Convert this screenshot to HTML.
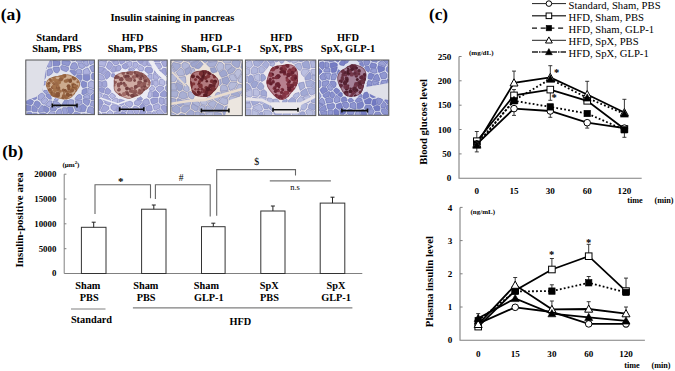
<!DOCTYPE html>
<html><head><meta charset="utf-8"><style>
html,body{margin:0;padding:0;background:#fff;width:675px;height:371px;overflow:hidden}
svg{display:block;font-family:"Liberation Serif",serif}
</style></head><body>
<svg width="675" height="371" viewBox="0 0 675 371" font-family="Liberation Serif, serif" fill="#000"><defs><filter id="bl" x="-5%" y="-5%" width="110%" height="110%"><feGaussianBlur stdDeviation="0.65"/></filter><clipPath id="c0"><rect x="25.8" y="60" width="68.6" height="54.6"/></clipPath><clipPath id="c1"><rect x="98.3" y="60" width="68.9" height="54.6"/></clipPath><clipPath id="c2"><rect x="170.8" y="60" width="71.5" height="55.6"/></clipPath><clipPath id="c3"><rect x="245.4" y="60" width="70.4" height="55.6"/></clipPath><clipPath id="c4"><rect x="318.5" y="60" width="70.3" height="55.3"/></clipPath></defs><text x="0.8" y="19.8" font-size="17.5" font-weight="bold" text-anchor="start" >(a)</text>
<text x="110.5" y="21" font-size="10.5" font-weight="bold" text-anchor="start" >Insulin staining in pancreas</text>
<text x="57" y="40.6" font-size="10.4" font-weight="bold" text-anchor="middle" >Standard</text>
<text x="57" y="51.8" font-size="10.4" font-weight="bold" text-anchor="middle" >Sham, PBS</text>
<text x="132.6" y="40.6" font-size="10.4" font-weight="bold" text-anchor="middle" >HFD</text>
<text x="132.6" y="51.8" font-size="10.4" font-weight="bold" text-anchor="middle" >Sham, PBS</text>
<text x="211.3" y="40.6" font-size="10.4" font-weight="bold" text-anchor="middle" >HFD</text>
<text x="211.3" y="51.8" font-size="10.4" font-weight="bold" text-anchor="middle" >Sham, GLP-1</text>
<text x="281.3" y="40.6" font-size="10.4" font-weight="bold" text-anchor="middle" >HFD</text>
<text x="281.3" y="51.8" font-size="10.4" font-weight="bold" text-anchor="middle" >SpX, PBS</text>
<text x="348" y="40.6" font-size="10.4" font-weight="bold" text-anchor="middle" >HFD</text>
<text x="348" y="51.8" font-size="10.4" font-weight="bold" text-anchor="middle" >SpX, GLP-1</text>
<g clip-path="url(#c0)"><g filter="url(#bl)">
<rect x="25.8" y="60" width="68.6" height="54.6" fill="#e2e4ee"/>
<path d="M18.1 52.8 22.3 57.4 22.9 57.4 25.8 51.1 21.9 49.7 19.1 50.8Z" fill="#aaafdc" stroke="#6c72b2" stroke-width="0.6"/>
<path d="M33.7 49.5 33.1 54.6 30.9 55.5 28.3 51.0 31.1 48.5 33.5 49.3Z" fill="#949ad1" stroke="#6c72b2" stroke-width="0.6"/>
<path d="M38.9 52.4 37.2 56.2 33.6 54.7 34.2 49.6Z" fill="#989dd3" stroke="#6c72b2" stroke-width="0.6"/>
<path d="M50.0 50.4 48.4 54.3 52.1 56.9 54.0 54.2 51.3 49.2Z" fill="#9ea3d6" stroke="#6c72b2" stroke-width="0.6"/>
<path d="M87.8 56.4 90.8 54.1 89.3 49.9 89.1 49.7 83.5 50.4 83.0 54.6Z" fill="#a3a8d9" stroke="#6c72b2" stroke-width="0.6"/>
<path d="M29.7 58.1 26.7 59.5 24.0 57.9 26.9 51.6 27.4 51.5 30.0 56.0Z" fill="#a6aada" stroke="#6c72b2" stroke-width="0.6"/>
<path d="M36.8 59.9 35.2 60.5 30.9 58.2 31.2 56.2 33.4 55.3 36.9 56.8Z" fill="#9298d0" stroke="#6c72b2" stroke-width="0.6"/>
<path d="M41.2 52.8 44.7 55.4 43.3 60.8 40.5 61.1 38.5 60.0 38.6 56.9 40.3 53.1Z" fill="#8f96cf" stroke="#6c72b2" stroke-width="0.6"/>
<path d="M44.4 61.1 44.6 61.2 51.2 59.7 51.5 59.1 51.3 58.0 47.6 55.4 45.8 55.7Z" fill="#9399d1" stroke="#6c72b2" stroke-width="0.6"/>
<path d="M55.2 55.1 60.6 53.7 61.0 54.2 60.7 59.4 60.2 60.3 53.4 58.9 53.3 57.7Z" fill="#8189c8" stroke="#6c72b2" stroke-width="0.6"/>
<path d="M69.7 60.1 68.6 54.8 62.9 54.4 62.5 59.5Z" fill="#9299d1" stroke="#6c72b2" stroke-width="0.6"/>
<path d="M74.1 52.9 70.0 54.5 70.0 54.5 71.2 59.8 72.1 60.9 74.9 60.5 76.9 56.3Z" fill="#a0a5d7" stroke="#6c72b2" stroke-width="0.6"/>
<path d="M81.4 56.3 78.3 56.9 76.3 61.2 77.8 62.3 81.7 61.7 82.0 61.1Z" fill="#adb1de" stroke="#6c72b2" stroke-width="0.6"/>
<path d="M87.1 59.2 82.6 61.0 82.0 56.2 82.5 55.9 87.3 57.7Z" fill="#a4a9d9" stroke="#6c72b2" stroke-width="0.6"/>
<path d="M89.9 64.7 88.7 59.5 88.9 57.9 91.9 55.7 95.2 56.7 96.4 61.1 92.5 63.8Z" fill="#9ea4d7" stroke="#6c72b2" stroke-width="0.6"/>
<path d="M22.6 67.8 20.1 66.4 20.2 61.7 22.6 59.4 23.1 59.4 25.8 61.0 26.6 66.0Z" fill="#9ca2d5" stroke="#6c72b2" stroke-width="0.6"/>
<path d="M34.6 61.6 30.4 59.3 27.3 60.8 28.1 65.8 30.7 66.7 31.7 66.1Z" fill="#8189c8" stroke="#6c72b2" stroke-width="0.6"/>
<path d="M39.4 62.9 39.1 68.6 32.9 66.9 35.9 62.4 37.5 61.9Z" fill="#8f96cf" stroke="#6c72b2" stroke-width="0.6"/>
<path d="M40.7 63.0 40.4 68.7 40.7 69.3 45.9 69.0 46.8 68.0 43.6 62.8 43.5 62.7Z" fill="#9096d0" stroke="#6c72b2" stroke-width="0.6"/>
<path d="M47.9 67.3 51.2 66.8 51.7 66.2 51.4 60.7 44.8 62.1Z" fill="#9ea3d6" stroke="#6c72b2" stroke-width="0.6"/>
<path d="M53.2 66.1 59.0 65.6 60.0 64.2 60.0 61.4 53.2 60.0 52.9 60.6Z" fill="#858cca" stroke="#6c72b2" stroke-width="0.6"/>
<path d="M70.6 62.1 68.6 66.1 62.0 64.2 62.0 61.3 62.5 60.5 69.7 61.1Z" fill="#9198d0" stroke="#6c72b2" stroke-width="0.6"/>
<path d="M75.5 69.6 70.7 68.7 70.4 66.9 72.3 63.0 75.2 62.6 76.7 63.8 77.9 67.9Z" fill="#979dd3" stroke="#6c72b2" stroke-width="0.6"/>
<path d="M79.3 67.5 78.0 63.4 81.9 62.7 85.3 66.8 82.2 68.7Z" fill="#a4a9d9" stroke="#6c72b2" stroke-width="0.6"/>
<path d="M87.8 66.0 88.5 65.0 87.3 59.8 82.8 61.6 82.6 62.1 86.0 66.2Z" fill="#a6abda" stroke="#6c72b2" stroke-width="0.6"/>
<path d="M97.2 69.4 93.4 65.1 97.3 62.4 97.5 62.6 99.0 66.4Z" fill="#9ca2d5" stroke="#6c72b2" stroke-width="0.6"/>
<path d="M23.4 71.4 27.0 75.4 30.9 73.0 30.0 68.7 27.3 67.7 23.4 69.5Z" fill="#878fcb" stroke="#6c72b2" stroke-width="0.6"/>
<path d="M39.2 70.0 38.5 72.0 34.2 73.6 32.6 72.7 31.7 68.3 32.7 67.7 38.9 69.4Z" fill="#a3a8d9" stroke="#6c72b2" stroke-width="0.6"/>
<path d="M46.0 70.2 46.0 75.5 41.0 74.0 40.0 72.6 40.7 70.6Z" fill="#aaaedc" stroke="#6c72b2" stroke-width="0.6"/>
<path d="M51.6 73.9 52.9 72.2 51.5 68.7 48.2 69.2 47.4 70.2 47.4 75.5 47.4 75.6 48.8 75.7Z" fill="#999fd4" stroke="#6c72b2" stroke-width="0.6"/>
<path d="M57.8 72.8 58.3 72.3 58.7 71.8 59.7 70.0 59.1 67.1 53.4 67.6 52.9 68.2 54.2 71.7 56.2 72.8Z" fill="#9097d0" stroke="#6c72b2" stroke-width="0.6"/>
<path d="M64.2 71.0 66.0 71.5 67.1 71.3 68.0 70.4 68.6 69.1 68.3 67.3 61.7 65.4 60.6 66.8 61.2 69.6Z" fill="#979dd3" stroke="#6c72b2" stroke-width="0.6"/>
<path d="M75.3 70.7 70.5 69.9 69.9 71.2 73.0 74.5 73.3 74.7 75.1 75.5 75.9 74.5Z" fill="#878ecb" stroke="#6c72b2" stroke-width="0.6"/>
<path d="M76.2 70.6 76.8 74.3 81.4 73.8 81.6 70.1 78.7 68.9Z" fill="#a1a6d8" stroke="#6c72b2" stroke-width="0.6"/>
<path d="M82.9 74.0 83.2 74.4 89.7 74.4 90.4 72.8 88.0 68.1 86.3 68.4 83.2 70.3Z" fill="#adb1de" stroke="#6c72b2" stroke-width="0.6"/>
<path d="M92.0 71.9 89.7 67.3 90.4 66.3 93.0 65.4 96.9 69.7 96.5 71.5Z" fill="#989ed3" stroke="#6c72b2" stroke-width="0.6"/>
<path d="M100.6 74.0 103.3 72.2 104.2 68.6 99.9 66.9 98.1 69.9 97.8 71.7Z" fill="#a1a6d8" stroke="#6c72b2" stroke-width="0.6"/>
<path d="M18.7 78.0 18.9 76.9 22.5 72.2 26.1 76.2 25.9 76.9 21.9 79.5Z" fill="#a6abda" stroke="#6c72b2" stroke-width="0.6"/>
<path d="M33.2 75.2 31.6 74.3 27.8 76.7 27.6 77.4 29.3 79.8 34.0 78.9Z" fill="#8990cc" stroke="#6c72b2" stroke-width="0.6"/>
<path d="M39.9 74.7 39.4 78.6 35.7 78.8 35.5 78.5 34.6 74.9 39.0 73.3Z" fill="#abb0dd" stroke="#6c72b2" stroke-width="0.6"/>
<path d="M44.9 78.8 45.9 76.4 45.8 76.3 40.8 74.8 40.2 78.8 42.7 80.7 43.9 79.8Z" fill="#9da2d6" stroke="#6c72b2" stroke-width="0.6"/>
<path d="M76.9 77.6 76.1 76.9 76.1 76.3 76.9 75.3 81.5 74.8 81.8 75.3 81.9 79.5 81.4 79.8 79.5 79.4Z" fill="#8990cc" stroke="#6c72b2" stroke-width="0.6"/>
<path d="M83.3 79.5 83.2 75.3 89.7 75.2 89.9 79.2 87.2 81.1Z" fill="#848bca" stroke="#6c72b2" stroke-width="0.6"/>
<path d="M99.5 75.3 96.7 73.1 92.2 73.5 91.5 75.1 91.8 79.1 96.0 80.8 99.2 79.2Z" fill="#8b92cd" stroke="#6c72b2" stroke-width="0.6"/>
<path d="M18.3 87.7 22.7 85.4 21.1 81.2 17.9 79.7 14.3 81.8 14.8 85.4Z" fill="#9ba0d5" stroke="#6c72b2" stroke-width="0.6"/>
<path d="M28.4 86.0 28.4 80.5 26.7 78.0 22.6 80.6 24.2 84.9 27.6 86.4Z" fill="#a0a5d7" stroke="#6c72b2" stroke-width="0.6"/>
<path d="M34.2 79.5 29.4 80.5 29.4 86.0 32.9 85.8 33.9 84.8 34.3 79.7Z" fill="#8f96cf" stroke="#6c72b2" stroke-width="0.6"/>
<path d="M35.7 79.9 35.2 84.9 41.4 84.4 41.9 81.7 39.5 79.7Z" fill="#abafdc" stroke="#6c72b2" stroke-width="0.6"/>
<path d="M47.9 83.7 43.5 85.3 43.2 84.7 43.7 82.0 44.9 81.1Z" fill="#9197d0" stroke="#6c72b2" stroke-width="0.6"/>
<path d="M77.1 83.0 77.4 83.2 79.8 83.4 79.8 83.4 81.2 80.8 79.3 80.4 78.8 80.6 76.8 82.6Z" fill="#959bd2" stroke="#6c72b2" stroke-width="0.6"/>
<path d="M81.6 86.0 80.8 84.0 82.2 81.3 82.7 81.0 86.6 82.6 86.4 86.8 82.8 87.8Z" fill="#868dcb" stroke="#6c72b2" stroke-width="0.6"/>
<path d="M88.3 82.7 91.1 80.8 95.3 82.5 94.9 87.3 94.2 88.9 88.3 87.0 88.2 86.9Z" fill="#adb1dd" stroke="#6c72b2" stroke-width="0.6"/>
<path d="M100.2 81.1 102.6 82.7 103.1 86.5 103.1 86.6 96.5 87.5 97.0 82.7Z" fill="#868ecb" stroke="#6c72b2" stroke-width="0.6"/>
<path d="M23.3 94.5 19.1 93.4 19.0 89.0 23.4 86.7 26.7 88.3 26.6 89.1Z" fill="#aaaedc" stroke="#6c72b2" stroke-width="0.6"/>
<path d="M28.6 89.5 28.8 88.7 29.5 88.2 33.1 88.0 35.7 92.6 31.3 94.3Z" fill="#999fd4" stroke="#6c72b2" stroke-width="0.6"/>
<path d="M34.4 87.2 35.4 86.3 41.5 85.8 41.9 86.3 42.4 87.5 42.2 89.9 41.8 91.3 38.1 92.6 37.1 91.8Z" fill="#9aa0d4" stroke="#6c72b2" stroke-width="0.6"/>
<path d="M48.6 90.5 43.9 90.4 43.5 91.8 45.7 93.9 49.0 92.5Z" fill="#9aa0d4" stroke="#6c72b2" stroke-width="0.6"/>
<path d="M83.2 89.2 86.8 88.2 86.9 88.3 86.7 93.3 83.0 94.9 81.8 93.4 82.3 90.3Z" fill="#8c93ce" stroke="#6c72b2" stroke-width="0.6"/>
<path d="M93.8 90.3 94.2 91.6 94.2 91.6 90.2 94.6 87.6 93.4 87.9 88.3Z" fill="#aaaedc" stroke="#6c72b2" stroke-width="0.6"/>
<path d="M96.0 89.6 96.4 90.9 103.2 90.9 103.1 87.1 96.6 88.0Z" fill="#aeb2de" stroke="#6c72b2" stroke-width="0.6"/>
<path d="M22.9 96.2 18.7 95.1 16.6 96.5 16.3 99.0 18.1 101.8 23.6 100.6 24.2 98.8Z" fill="#a6aada" stroke="#6c72b2" stroke-width="0.6"/>
<path d="M24.6 95.3 27.9 89.9 30.6 94.7 30.0 97.5 25.9 97.9Z" fill="#9ca1d5" stroke="#6c72b2" stroke-width="0.6"/>
<path d="M31.6 94.9 36.0 93.2 37.0 94.0 36.3 99.0 34.3 99.7 30.9 97.7Z" fill="#868dcb" stroke="#6c72b2" stroke-width="0.6"/>
<path d="M38.0 99.2 38.7 94.3 42.4 92.9 44.5 95.0 44.8 96.9 40.3 100.5Z" fill="#a6abda" stroke="#6c72b2" stroke-width="0.6"/>
<path d="M49.7 93.6 50.6 94.7 51.4 99.2 49.0 99.1 46.3 96.7 46.0 94.8 49.4 93.5Z" fill="#8d94ce" stroke="#6c72b2" stroke-width="0.6"/>
<path d="M54.1 99.9 56.3 97.5 57.5 97.4 58.8 97.6 57.6 100.8Z" fill="#a9aedc" stroke="#6c72b2" stroke-width="0.6"/>
<path d="M64.1 98.8 64.4 100.1 66.8 99.5 64.9 98.5Z" fill="#8b92cd" stroke="#6c72b2" stroke-width="0.6"/>
<path d="M77.0 95.8 75.2 98.3 75.1 99.2 75.4 99.8 81.4 98.9 81.7 98.3 81.6 96.0 80.4 94.6 78.8 94.5Z" fill="#9aa0d5" stroke="#6c72b2" stroke-width="0.6"/>
<path d="M83.6 98.2 83.4 96.0 87.2 94.3 89.7 95.6 89.6 99.0Z" fill="#a6abda" stroke="#6c72b2" stroke-width="0.6"/>
<path d="M91.4 99.9 97.3 99.5 97.5 99.3 95.0 92.6 91.0 95.7 90.9 99.0Z" fill="#8990cc" stroke="#6c72b2" stroke-width="0.6"/>
<path d="M98.8 98.7 101.3 98.1 104.7 93.8 103.2 92.1 96.4 92.1 96.3 92.1Z" fill="#999fd4" stroke="#6c72b2" stroke-width="0.6"/>
<path d="M23.7 106.9 17.8 105.3 18.4 103.0 23.9 101.7 24.7 104.4Z" fill="#848bca" stroke="#6c72b2" stroke-width="0.6"/>
<path d="M31.2 104.9 26.3 103.8 25.5 101.2 26.1 99.5 30.1 99.0 33.5 101.1 32.3 104.0Z" fill="#8189c9" stroke="#6c72b2" stroke-width="0.6"/>
<path d="M33.8 104.6 35.0 101.7 37.1 100.9 39.4 102.2 40.8 104.6 37.9 108.2Z" fill="#8890cc" stroke="#6c72b2" stroke-width="0.6"/>
<path d="M44.7 104.1 48.1 100.1 45.4 97.7 40.9 101.2 42.4 103.6 44.0 104.2Z" fill="#adb1de" stroke="#6c72b2" stroke-width="0.6"/>
<path d="M51.9 101.1 51.3 100.9 48.9 100.8 45.5 104.8 49.3 107.0 52.0 104.1Z" fill="#abafdd" stroke="#6c72b2" stroke-width="0.6"/>
<path d="M53.4 101.0 53.8 100.9 57.3 101.8 58.5 102.4 60.6 104.3 61.1 106.0 60.3 106.9 57.8 107.7 53.6 104.1 53.4 101.0Z" fill="#9ea4d6" stroke="#6c72b2" stroke-width="0.6"/>
<path d="M64.5 100.5 62.4 103.7 62.4 103.8 62.9 105.5 66.4 105.5 67.1 105.2 67.5 100.0 66.9 100.0Z" fill="#8e95cf" stroke="#6c72b2" stroke-width="0.6"/>
<path d="M68.1 105.3 68.5 100.1 68.6 100.0 70.5 99.6 70.5 99.6 73.5 100.1 73.9 100.6 73.5 104.3 72.6 105.4Z" fill="#9fa4d7" stroke="#6c72b2" stroke-width="0.6"/>
<path d="M75.5 100.8 81.6 100.0 82.0 103.0 79.6 104.7 75.1 104.5Z" fill="#a2a7d8" stroke="#6c72b2" stroke-width="0.6"/>
<path d="M83.6 102.8 87.4 105.6 88.7 104.7 90.0 100.8 89.5 99.9 83.4 99.1 83.1 99.7Z" fill="#9298d0" stroke="#6c72b2" stroke-width="0.6"/>
<path d="M91.5 101.3 97.4 100.9 97.4 103.9 93.8 106.5 90.2 105.2Z" fill="#9ba1d5" stroke="#6c72b2" stroke-width="0.6"/>
<path d="M23.5 107.5 23.6 110.0 17.7 112.6 17.3 106.5 17.7 106.0Z" fill="#a5aada" stroke="#6c72b2" stroke-width="0.6"/>
<path d="M30.5 110.6 31.0 106.0 26.1 104.9 25.1 107.4 25.2 109.9 27.0 111.1Z" fill="#8189c8" stroke="#6c72b2" stroke-width="0.6"/>
<path d="M33.3 111.8 37.0 111.8 37.4 108.8 33.3 105.2 32.2 106.1 31.7 110.7Z" fill="#8990cc" stroke="#6c72b2" stroke-width="0.6"/>
<path d="M38.5 112.0 39.1 112.5 43.5 111.6 43.4 105.9 41.8 105.3 38.8 109.0Z" fill="#969cd2" stroke="#6c72b2" stroke-width="0.6"/>
<path d="M48.7 108.0 44.9 105.8 44.2 105.9 44.4 111.5 47.1 112.7 49.1 110.5Z" fill="#878ecb" stroke="#6c72b2" stroke-width="0.6"/>
<path d="M52.8 104.9 50.1 107.8 50.5 110.3 55.1 111.0 57.1 108.5Z" fill="#9298d1" stroke="#6c72b2" stroke-width="0.6"/>
<path d="M62.9 107.7 66.4 107.7 67.7 113.4 64.0 116.1 62.0 108.6Z" fill="#9aa0d5" stroke="#6c72b2" stroke-width="0.6"/>
<path d="M68.6 113.2 67.3 107.5 68.0 107.1 72.6 107.2 73.9 111.0 71.8 113.7Z" fill="#888fcc" stroke="#6c72b2" stroke-width="0.6"/>
<path d="M80.7 112.0 75.6 110.4 74.2 106.7 75.1 105.6 79.6 105.8 80.9 111.9Z" fill="#989ed3" stroke="#6c72b2" stroke-width="0.6"/>
<path d="M81.6 111.8 80.3 105.7 82.7 103.9 86.5 106.8 85.1 111.5Z" fill="#8c93ce" stroke="#6c72b2" stroke-width="0.6"/>
<path d="M87.0 112.1 88.4 107.3 89.8 106.5 93.3 107.7 95.2 112.9 94.1 114.1 87.1 112.2Z" fill="#9aa0d4" stroke="#6c72b2" stroke-width="0.6"/>
<path d="M98.0 104.8 101.8 109.6 101.4 110.9 96.3 112.5 94.4 107.4Z" fill="#8f96cf" stroke="#6c72b2" stroke-width="0.6"/>
<path d="M25.7 116.4 22.5 117.7 18.5 114.5 18.3 114.0 18.3 114.0 24.2 111.4 26.1 112.6Z" fill="#9ea3d6" stroke="#6c72b2" stroke-width="0.6"/>
<path d="M30.7 118.8 32.3 113.3 30.7 112.2 27.3 112.7 27.0 116.5 29.7 119.3Z" fill="#828ac9" stroke="#6c72b2" stroke-width="0.6"/>
<path d="M31.7 119.1 37.0 120.0 38.2 118.6 37.6 114.1 37.0 113.6 33.3 113.6Z" fill="#9fa4d7" stroke="#6c72b2" stroke-width="0.6"/>
<path d="M43.8 112.9 39.3 113.8 40.0 118.3 44.2 119.1 47.1 117.3 46.6 114.0Z" fill="#878ecb" stroke="#6c72b2" stroke-width="0.6"/>
<path d="M55.6 118.3 54.9 112.2 50.3 111.5 48.4 113.8 48.9 117.0 52.1 118.8Z" fill="#acb0dd" stroke="#6c72b2" stroke-width="0.6"/>
<path d="M60.9 108.9 62.8 116.4 62.6 117.1 58.0 118.5 57.1 118.1 56.4 112.0 58.4 109.6Z" fill="#9ca1d5" stroke="#6c72b2" stroke-width="0.6"/>
<path d="M64.5 117.8 65.4 118.7 71.2 120.2 72.3 118.5 71.5 115.0 68.4 114.4 64.7 117.1Z" fill="#969cd2" stroke="#6c72b2" stroke-width="0.6"/>
<path d="M73.0 114.7 75.1 111.9 80.3 113.5 78.3 118.0 73.7 118.2Z" fill="#9399d1" stroke="#6c72b2" stroke-width="0.6"/>
<path d="M85.7 120.0 85.4 113.9 85.3 113.8 81.8 114.0 81.6 114.1 79.7 118.6 80.3 119.7Z" fill="#9da2d6" stroke="#6c72b2" stroke-width="0.6"/>
<path d="M87.0 119.9 86.7 113.8 93.6 115.7 93.9 120.0 93.5 120.5 87.6 120.8Z" fill="#a0a5d7" stroke="#6c72b2" stroke-width="0.6"/>
<path d="M102.7 121.1 103.1 120.6 103.3 114.8 102.0 112.8 96.9 114.4 95.7 115.6 95.9 119.9Z" fill="#a3a8d9" stroke="#6c72b2" stroke-width="0.6"/>
<path d="M22.0 124.4 18.1 124.7 16.2 120.9 17.7 115.6 21.7 118.7Z" fill="#a3a8d9" stroke="#6c72b2" stroke-width="0.6"/>
<path d="M28.9 120.1 28.1 122.1 23.6 124.6 23.2 124.4 22.9 118.6 26.1 117.4Z" fill="#969cd3" stroke="#6c72b2" stroke-width="0.6"/>
<path d="M79.0 120.4 78.4 119.3 73.8 119.5 72.7 121.2 72.9 122.5 77.6 126.2 79.1 125.3Z" fill="#aeb2de" stroke="#6c72b2" stroke-width="0.6"/>
<path d="M85.7 120.6 80.3 120.4 80.4 125.3 84.6 125.7 86.2 121.6Z" fill="#a7abda" stroke="#6c72b2" stroke-width="0.6"/>
<clipPath id="ie0"><polygon points="79.9,82.0 80.2,84.4 79.5,86.9 78.0,89.2 76.5,91.2 75.1,93.2 73.7,95.3 71.8,97.3 69.3,98.8 66.5,99.6 63.6,99.5 61.0,99.0 58.6,98.4 56.2,97.8 53.9,97.0 51.8,95.9 50.2,94.4 48.9,92.5 47.9,90.6 46.9,88.4 46.0,86.1 45.8,83.4 46.7,80.8 48.8,78.6 51.7,77.2 54.8,76.4 57.5,75.9 60.0,75.4 62.4,74.8 65.0,74.3 67.5,74.3 70.0,74.8 72.3,75.7 74.5,76.8 76.7,78.1 78.6,79.8"/></clipPath>
<polygon points="79.9,82.0 80.2,84.4 79.5,86.9 78.0,89.2 76.5,91.2 75.1,93.2 73.7,95.3 71.8,97.3 69.3,98.8 66.5,99.6 63.6,99.5 61.0,99.0 58.6,98.4 56.2,97.8 53.9,97.0 51.8,95.9 50.2,94.4 48.9,92.5 47.9,90.6 46.9,88.4 46.0,86.1 45.8,83.4 46.7,80.8 48.8,78.6 51.7,77.2 54.8,76.4 57.5,75.9 60.0,75.4 62.4,74.8 65.0,74.3 67.5,74.3 70.0,74.8 72.3,75.7 74.5,76.8 76.7,78.1 78.6,79.8" fill="none" stroke="#e2e4ee" stroke-width="0.9"/>
<g clip-path="url(#ie0)"><polygon points="79.9,82.0 80.2,84.4 79.5,86.9 78.0,89.2 76.5,91.2 75.1,93.2 73.7,95.3 71.8,97.3 69.3,98.8 66.5,99.6 63.6,99.5 61.0,99.0 58.6,98.4 56.2,97.8 53.9,97.0 51.8,95.9 50.2,94.4 48.9,92.5 47.9,90.6 46.9,88.4 46.0,86.1 45.8,83.4 46.7,80.8 48.8,78.6 51.7,77.2 54.8,76.4 57.5,75.9 60.0,75.4 62.4,74.8 65.0,74.3 67.5,74.3 70.0,74.8 72.3,75.7 74.5,76.8 76.7,78.1 78.6,79.8" fill="#ccab8e"/><circle cx="58.4" cy="89.5" r="1.6" fill="#8c5a3b"/><circle cx="53.7" cy="86.6" r="1.3" fill="#905e3d"/><circle cx="55.4" cy="87.5" r="1.9" fill="#895738"/><circle cx="71.4" cy="91.0" r="1.6" fill="#855335"/><circle cx="51.2" cy="81.0" r="1.8" fill="#9d6b46"/><circle cx="73.5" cy="87.7" r="1.5" fill="#814f32"/><circle cx="58.2" cy="89.2" r="1.7" fill="#986643"/><circle cx="53.3" cy="88.1" r="1.4" fill="#7f4d31"/><circle cx="54.3" cy="96.6" r="1.8" fill="#8a5838"/><circle cx="59.1" cy="80.8" r="1.7" fill="#996744"/><circle cx="72.9" cy="84.2" r="1.8" fill="#a7754e"/><circle cx="64.7" cy="76.1" r="1.8" fill="#905e3d"/><circle cx="55.0" cy="90.3" r="2.1" fill="#a5734c"/><circle cx="51.7" cy="94.9" r="1.1" fill="#845234"/><circle cx="53.4" cy="86.2" r="1.5" fill="#a9774f"/><circle cx="67.8" cy="91.8" r="1.4" fill="#9c6a46"/><circle cx="63.4" cy="90.2" r="1.8" fill="#8f5d3d"/><circle cx="63.8" cy="96.0" r="1.9" fill="#966442"/><circle cx="54.2" cy="79.4" r="2.1" fill="#a9774f"/><circle cx="57.9" cy="93.6" r="2.2" fill="#8c5a3a"/><circle cx="60.1" cy="75.7" r="1.9" fill="#a8764f"/><circle cx="66.4" cy="81.0" r="1.8" fill="#946240"/><circle cx="53.5" cy="83.2" r="1.4" fill="#9f6d48"/><circle cx="54.5" cy="85.0" r="1.4" fill="#8c5a3a"/><circle cx="68.2" cy="95.2" r="1.3" fill="#814f32"/><circle cx="69.1" cy="88.8" r="1.9" fill="#835134"/><circle cx="49.4" cy="90.0" r="1.7" fill="#855335"/><circle cx="73.0" cy="77.4" r="1.2" fill="#895738"/><circle cx="48.6" cy="86.0" r="1.6" fill="#9e6c47"/><circle cx="62.8" cy="97.7" r="1.5" fill="#8d5b3b"/><circle cx="63.9" cy="74.5" r="2.1" fill="#976542"/><circle cx="51.0" cy="91.8" r="1.8" fill="#a3714b"/><circle cx="65.2" cy="81.1" r="1.6" fill="#9b6945"/><circle cx="64.0" cy="93.0" r="1.1" fill="#986643"/><circle cx="77.7" cy="81.9" r="1.3" fill="#9c6a46"/><circle cx="51.6" cy="91.6" r="1.6" fill="#a7754e"/><circle cx="68.6" cy="86.2" r="2.0" fill="#835134"/><circle cx="72.0" cy="88.5" r="2.0" fill="#aa7850"/><circle cx="70.2" cy="92.0" r="1.1" fill="#966441"/><circle cx="52.6" cy="87.4" r="1.5" fill="#a16f4a"/><circle cx="67.9" cy="80.1" r="1.6" fill="#996744"/><circle cx="64.5" cy="73.7" r="1.6" fill="#9d6b46"/><circle cx="49.1" cy="83.2" r="1.3" fill="#865436"/><circle cx="75.1" cy="94.4" r="1.4" fill="#936140"/><circle cx="70.2" cy="92.0" r="1.1" fill="#976542"/><circle cx="71.0" cy="94.8" r="1.4" fill="#885637"/><circle cx="52.7" cy="87.4" r="1.4" fill="#804e32"/><circle cx="77.0" cy="91.4" r="1.5" fill="#814f33"/><circle cx="67.8" cy="95.1" r="2.3" fill="#875536"/><circle cx="70.8" cy="79.5" r="1.6" fill="#a2704a"/><circle cx="58.4" cy="89.4" r="1.8" fill="#9b6945"/><circle cx="56.4" cy="81.2" r="2.2" fill="#a4724c"/><circle cx="74.2" cy="86.2" r="2.1" fill="#9e6c47"/><circle cx="65.3" cy="90.3" r="1.3" fill="#835134"/><circle cx="72.1" cy="90.3" r="2.0" fill="#8c5a3a"/><circle cx="58.2" cy="86.2" r="1.4" fill="#a8764f"/><circle cx="75.0" cy="87.2" r="2.1" fill="#a16f49"/><circle cx="62.0" cy="77.8" r="2.1" fill="#a2704a"/><circle cx="64.8" cy="73.7" r="1.2" fill="#a8764e"/><circle cx="51.8" cy="92.9" r="1.4" fill="#a6744d"/><circle cx="75.4" cy="88.0" r="1.4" fill="#8f5d3c"/><circle cx="54.0" cy="94.4" r="2.1" fill="#8e5c3c"/><circle cx="56.4" cy="80.2" r="1.4" fill="#a6744d"/><circle cx="60.2" cy="91.3" r="1.5" fill="#9f6d48"/><circle cx="66.4" cy="97.5" r="1.8" fill="#9c6a46"/><circle cx="66.0" cy="91.4" r="1.3" fill="#8d5b3b"/><circle cx="58.7" cy="88.1" r="1.7" fill="#905e3d"/><circle cx="57.7" cy="95.4" r="2.2" fill="#875537"/><circle cx="70.2" cy="81.1" r="2.0" fill="#835133"/><circle cx="74.0" cy="85.8" r="2.3" fill="#885637"/><circle cx="51.5" cy="92.6" r="1.3" fill="#8a5839"/><circle cx="56.1" cy="75.1" r="1.5" fill="#865436"/><circle cx="53.1" cy="96.6" r="1.3" fill="#9a6844"/><circle cx="53.5" cy="93.9" r="1.4" fill="#996744"/><circle cx="74.3" cy="78.6" r="1.9" fill="#946240"/><circle cx="56.7" cy="84.2" r="2.1" fill="#9c6a46"/><circle cx="50.3" cy="89.6" r="1.6" fill="#8f5d3c"/><circle cx="64.6" cy="96.8" r="1.8" fill="#956340"/><circle cx="75.7" cy="88.6" r="1.6" fill="#986643"/><circle cx="50.2" cy="79.5" r="1.3" fill="#93613f"/><circle cx="76.9" cy="86.0" r="1.5" fill="#9e6c48"/><circle cx="73.7" cy="85.9" r="2.1" fill="#845234"/><circle cx="74.6" cy="85.9" r="1.4" fill="#a3714b"/><circle cx="53.8" cy="76.3" r="2.1" fill="#a16f4a"/><circle cx="47.1" cy="85.6" r="1.2" fill="#a4724c"/><circle cx="60.9" cy="79.5" r="2.1" fill="#92603f"/><circle cx="48.4" cy="83.7" r="1.3" fill="#8a5839"/><circle cx="59.2" cy="82.6" r="1.8" fill="#a16f49"/><circle cx="54.2" cy="86.9" r="2.1" fill="#a4724b"/><polygon points="79.9,82.0 80.2,84.4 79.5,86.9 78.0,89.2 76.5,91.2 75.1,93.2 73.7,95.3 71.8,97.3 69.3,98.8 66.5,99.6 63.6,99.5 61.0,99.0 58.6,98.4 56.2,97.8 53.9,97.0 51.8,95.9 50.2,94.4 48.9,92.5 47.9,90.6 46.9,88.4 46.0,86.1 45.8,83.4 46.7,80.8 48.8,78.6 51.7,77.2 54.8,76.4 57.5,75.9 60.0,75.4 62.4,74.8 65.0,74.3 67.5,74.3 70.0,74.8 72.3,75.7 74.5,76.8 76.7,78.1 78.6,79.8" fill="none" stroke="#946240" stroke-width="2.0" stroke-opacity="0.6"/></g>
<polygon points="25.8,60 50,60 47,66 45,74 44,84 42,92 36,97 30,99 25.8,101" fill="#dfe0e8"/>
<path d="M52.3 105.4H77M52.3 103.4V107.4M77 103.4V107.4" stroke="#111" stroke-width="1.6" fill="none"/>
</g></g>
<rect x="25.8" y="60" width="68.6" height="54.6" fill="none" stroke="#555" stroke-width="1"/>
<g clip-path="url(#c1)"><g filter="url(#bl)">
<rect x="98.3" y="60" width="68.9" height="54.6" fill="#eaeaf4"/>
<path d="M108.9 57.6 105.4 53.2 106.2 51.5 111.0 50.4 111.3 50.5 112.2 54.6Z" fill="#9a9ed3" stroke="#7b7eb8" stroke-width="0.6"/>
<path d="M127.0 53.4 126.0 49.6 125.3 49.2 120.6 51.7 120.1 55.4 123.4 56.0Z" fill="#9ea1d5" stroke="#7b7eb8" stroke-width="0.6"/>
<path d="M140.9 55.4 141.1 51.2 139.3 50.3 135.8 51.2 134.7 53.5 137.7 57.2Z" fill="#acafdc" stroke="#7b7eb8" stroke-width="0.6"/>
<path d="M145.3 57.4 146.6 57.7 149.4 53.5 148.9 50.7 148.5 50.4 144.8 50.2 142.8 51.2 142.6 55.5Z" fill="#adb0dd" stroke="#7b7eb8" stroke-width="0.6"/>
<path d="M163.3 53.5 164.4 50.0 165.4 49.4 169.7 50.4 170.1 53.0 167.8 57.7 166.5 57.4Z" fill="#a0a3d6" stroke="#7b7eb8" stroke-width="0.6"/>
<path d="M96.3 62.0 90.1 62.0 88.3 60.3 88.5 59.3 91.8 55.5 93.5 56.2 96.6 61.1Z" fill="#a5a8d8" stroke="#7b7eb8" stroke-width="0.6"/>
<path d="M97.8 60.3 94.7 55.4 99.1 53.4 101.2 54.5 100.1 59.0Z" fill="#9ea2d5" stroke="#7b7eb8" stroke-width="0.6"/>
<path d="M101.1 59.2 102.2 54.7 104.4 54.0 107.9 58.4 107.7 59.8 106.9 60.5Z" fill="#a8abda" stroke="#7b7eb8" stroke-width="0.6"/>
<path d="M117.4 58.8 117.7 56.9 113.2 55.7 110.0 58.7 109.8 60.1 112.2 61.5Z" fill="#a1a4d6" stroke="#7b7eb8" stroke-width="0.6"/>
<path d="M120.1 63.6 121.2 64.2 125.0 61.8 125.1 61.7 123.1 57.5 119.8 56.9 119.3 57.2 119.0 59.1Z" fill="#a1a4d6" stroke="#7b7eb8" stroke-width="0.6"/>
<path d="M129.3 55.4 129.9 60.0 126.1 61.2 124.2 57.0 127.7 54.4Z" fill="#9da0d4" stroke="#7b7eb8" stroke-width="0.6"/>
<path d="M136.8 57.9 133.8 54.3 130.6 55.2 131.1 59.8 133.1 60.9 135.9 60.3Z" fill="#9fa2d5" stroke="#7b7eb8" stroke-width="0.6"/>
<path d="M144.4 58.7 140.8 63.8 139.8 63.6 137.5 60.9 138.4 58.6 141.7 56.8Z" fill="#9da1d5" stroke="#7b7eb8" stroke-width="0.6"/>
<path d="M147.7 58.4 150.5 54.2 154.1 56.5 153.1 60.4 147.7 58.4Z" fill="#9599d0" stroke="#7b7eb8" stroke-width="0.6"/>
<path d="M159.9 61.5 158.6 56.2 157.2 56.0 155.3 56.8 154.3 60.7 154.8 62.0 159.9 61.6Z" fill="#9fa3d6" stroke="#7b7eb8" stroke-width="0.6"/>
<path d="M160.9 61.3 165.5 58.2 162.4 54.2 159.6 56.0Z" fill="#a9acdb" stroke="#7b7eb8" stroke-width="0.6"/>
<path d="M168.9 58.2 170.1 59.9 174.1 59.9 174.6 56.0 171.2 53.5Z" fill="#9ea1d5" stroke="#7b7eb8" stroke-width="0.6"/>
<path d="M96.8 65.7 96.3 63.1 90.0 63.0 90.4 67.2 95.1 68.6Z" fill="#989cd2" stroke="#7b7eb8" stroke-width="0.6"/>
<path d="M104.9 66.6 106.6 61.6 100.9 60.4 98.6 61.8 98.3 62.7 98.8 65.3Z" fill="#b2b5df" stroke="#7b7eb8" stroke-width="0.6"/>
<path d="M106.5 67.2 108.5 69.3 109.5 69.7 113.2 65.3 111.4 62.8 109.0 61.5 108.2 62.1 106.4 67.1Z" fill="#a5a8d8" stroke="#7b7eb8" stroke-width="0.6"/>
<path d="M118.8 63.9 115.7 64.9 114.3 64.6 112.5 62.1 117.7 59.4Z" fill="#a6a9d9" stroke="#7b7eb8" stroke-width="0.6"/>
<path d="M127.9 67.9 128.2 67.7 125.8 63.0 122.0 65.4 122.8 68.0 125.3 69.0 127.3 68.2Z" fill="#9fa3d6" stroke="#7b7eb8" stroke-width="0.6"/>
<path d="M129.7 67.3 128.9 67.3 126.5 62.7 126.6 62.5 130.3 61.3 132.2 62.4 131.4 66.3Z" fill="#b4b6e0" stroke="#7b7eb8" stroke-width="0.6"/>
<path d="M136.3 62.0 133.5 62.6 132.6 66.6 135.2 68.3 136.6 68.0 138.6 64.7Z" fill="#afb2de" stroke="#7b7eb8" stroke-width="0.6"/>
<path d="M145.0 59.1 146.3 59.4 146.3 59.4 146.5 65.4 144.7 66.3 141.3 64.2Z" fill="#aaaddb" stroke="#7b7eb8" stroke-width="0.6"/>
<path d="M147.3 59.4 152.8 61.3 153.3 62.6 151.8 66.1 147.5 65.4Z" fill="#acaedc" stroke="#7b7eb8" stroke-width="0.6"/>
<path d="M160.0 63.0 161.9 67.0 160.4 68.3 154.6 69.1 153.4 66.8 154.9 63.3Z" fill="#adb0dc" stroke="#7b7eb8" stroke-width="0.6"/>
<path d="M161.5 62.1 166.1 59.0 167.5 59.3 168.7 60.9 166.8 66.1 166.0 66.5 163.4 66.2 161.5 62.3Z" fill="#a6a9d9" stroke="#7b7eb8" stroke-width="0.6"/>
<path d="M176.1 65.1 175.5 62.6 174.1 61.5 170.1 61.4 168.2 66.6 172.8 68.0Z" fill="#a3a6d7" stroke="#7b7eb8" stroke-width="0.6"/>
<path d="M97.2 73.1 96.9 69.6 98.5 66.7 104.6 68.0 104.7 68.1 100.5 73.0Z" fill="#a2a5d7" stroke="#7b7eb8" stroke-width="0.6"/>
<path d="M101.0 73.4 105.1 68.5 107.1 70.6 103.8 74.7Z" fill="#a6a9d9" stroke="#7b7eb8" stroke-width="0.6"/>
<path d="M110.3 70.3 113.9 66.0 115.3 66.3 115.6 71.3 115.2 71.8 114.2 72.1 111.9 72.2Z" fill="#a5a8d8" stroke="#7b7eb8" stroke-width="0.6"/>
<path d="M119.2 65.3 120.4 65.9 121.2 68.5 119.7 70.7 116.4 71.3 116.1 66.3Z" fill="#a7aada" stroke="#7b7eb8" stroke-width="0.6"/>
<path d="M128.6 68.9 128.9 68.7 129.8 68.6 130.3 70.2 130.5 72.2 129.1 72.9Z" fill="#a7aada" stroke="#7b7eb8" stroke-width="0.6"/>
<path d="M134.3 70.0 134.6 69.1 132.0 67.5 130.4 68.4 131.0 69.9 133.4 71.2Z" fill="#b0b3de" stroke="#7b7eb8" stroke-width="0.6"/>
<path d="M140.8 70.9 138.8 70.2 137.6 68.6 139.6 65.2 140.5 65.4 143.8 67.6 143.2 70.4 142.4 70.9Z" fill="#b4b6e0" stroke="#7b7eb8" stroke-width="0.6"/>
<path d="M145.5 68.0 144.8 70.7 147.9 73.4 148.0 73.5 151.7 72.8 152.3 72.1 152.7 70.0 151.5 67.7 147.3 67.0Z" fill="#9ca0d4" stroke="#7b7eb8" stroke-width="0.6"/>
<path d="M160.5 69.8 154.8 70.5 154.3 72.5 158.5 75.2 160.6 72.3Z" fill="#9599d0" stroke="#7b7eb8" stroke-width="0.6"/>
<path d="M165.8 68.6 163.2 68.3 161.6 69.7 161.7 72.2 164.9 76.0 166.6 74.4Z" fill="#9fa2d5" stroke="#7b7eb8" stroke-width="0.6"/>
<path d="M172.4 69.5 167.8 68.1 167.0 68.5 167.8 74.3 173.1 74.9 173.4 74.1Z" fill="#9599d1" stroke="#7b7eb8" stroke-width="0.6"/>
<path d="M95.4 74.8 90.8 75.8 89.4 79.8 89.8 81.0 96.1 79.1Z" fill="#b1b3de" stroke="#7b7eb8" stroke-width="0.6"/>
<path d="M97.2 74.5 100.5 74.4 103.3 75.7 104.8 79.3 101.9 80.3 98.6 79.8 97.9 78.8 97.2 74.5Z" fill="#aaaddb" stroke="#7b7eb8" stroke-width="0.6"/>
<path d="M104.4 75.2 107.8 71.1 108.8 71.5 110.4 73.4 109.8 76.0 109.1 77.0 109.1 77.1 106.8 79.0 106.7 79.1 105.9 78.8Z" fill="#9ea2d5" stroke="#7b7eb8" stroke-width="0.6"/>
<path d="M111.9 73.8 114.3 73.7 115.1 76.4 114.9 77.8 114.6 77.9 114.1 77.7 111.3 76.4Z" fill="#9b9fd3" stroke="#7b7eb8" stroke-width="0.6"/>
<path d="M151.4 79.4 151.6 79.3 152.2 79.3 151.9 74.1 148.2 74.8 147.5 77.2 147.5 77.2 149.8 78.9Z" fill="#b3b6e0" stroke="#7b7eb8" stroke-width="0.6"/>
<path d="M157.9 79.4 153.6 79.3 153.5 79.2 153.2 74.1 153.8 73.3 158.0 76.0 158.9 78.3Z" fill="#b2b4df" stroke="#7b7eb8" stroke-width="0.6"/>
<path d="M160.0 77.9 159.1 75.6 161.2 72.7 164.3 76.5 163.8 77.7Z" fill="#adafdc" stroke="#7b7eb8" stroke-width="0.6"/>
<path d="M165.8 79.3 165.4 78.4 165.9 77.2 167.6 75.6 172.9 76.2 173.6 79.8 173.6 79.9Z" fill="#adb0dc" stroke="#7b7eb8" stroke-width="0.6"/>
<path d="M97.0 80.9 95.4 85.8 91.8 86.6 89.7 84.0 90.0 81.7 96.3 79.8Z" fill="#afb1dd" stroke="#7b7eb8" stroke-width="0.6"/>
<path d="M98.4 81.3 96.7 86.2 98.3 87.3 101.8 86.4 101.7 81.8Z" fill="#a4a7d8" stroke="#7b7eb8" stroke-width="0.6"/>
<path d="M105.3 80.7 106.1 81.0 106.7 82.6 107.0 85.4 106.8 86.5 105.1 87.5 102.5 86.4 102.4 81.7Z" fill="#a2a6d7" stroke="#7b7eb8" stroke-width="0.6"/>
<path d="M149.3 83.9 151.7 80.4 152.4 80.4 152.5 80.5 152.5 85.0 151.6 85.1 149.6 84.5 149.3 84.2Z" fill="#a8abda" stroke="#7b7eb8" stroke-width="0.6"/>
<path d="M157.9 80.6 153.6 80.5 153.6 85.0 155.5 86.7 158.4 84.7Z" fill="#b4b6e0" stroke="#7b7eb8" stroke-width="0.6"/>
<path d="M164.3 80.0 163.8 79.2 160.1 79.4 159.1 80.5 159.5 84.6 163.8 85.6 164.9 84.4Z" fill="#b8bae2" stroke="#7b7eb8" stroke-width="0.6"/>
<path d="M165.7 79.8 173.5 80.5 172.7 84.3 166.4 84.2Z" fill="#b5b7e1" stroke="#7b7eb8" stroke-width="0.6"/>
<path d="M92.2 88.5 91.2 91.9 94.1 95.4 94.2 95.4 98.4 91.8 97.4 88.7 95.8 87.6Z" fill="#b2b4df" stroke="#7b7eb8" stroke-width="0.6"/>
<path d="M98.6 88.3 99.6 91.5 103.0 93.1 103.5 92.9 104.7 88.5 102.1 87.4Z" fill="#979bd1" stroke="#7b7eb8" stroke-width="0.6"/>
<path d="M110.4 90.0 107.6 87.9 105.9 88.8 104.7 93.2 108.5 94.6 110.7 92.1 110.8 91.4 110.6 90.5Z" fill="#9da0d4" stroke="#7b7eb8" stroke-width="0.6"/>
<path d="M149.8 90.6 152.4 90.9 154.4 89.4 154.5 87.8 152.6 86.2 151.7 86.3 149.6 88.5Z" fill="#b7b9e1" stroke="#7b7eb8" stroke-width="0.6"/>
<path d="M159.2 85.9 156.3 87.9 156.3 89.4 159.6 92.6 163.5 89.2 163.5 87.0Z" fill="#a8aada" stroke="#7b7eb8" stroke-width="0.6"/>
<path d="M166.3 85.7 165.3 86.9 165.3 89.2 168.9 92.6 169.7 92.4 173.1 86.5 172.7 85.8Z" fill="#a7aad9" stroke="#7b7eb8" stroke-width="0.6"/>
<path d="M170.8 93.0 175.4 95.2 177.8 90.9 176.8 88.7 174.2 87.1Z" fill="#9fa3d6" stroke="#7b7eb8" stroke-width="0.6"/>
<path d="M102.4 94.3 100.9 97.9 99.1 98.1 94.9 96.2 99.1 92.6Z" fill="#b3b5e0" stroke="#7b7eb8" stroke-width="0.6"/>
<path d="M108.4 97.3 108.0 96.0 104.2 94.6 103.7 94.8 102.2 98.4 104.2 101.2Z" fill="#a7aad9" stroke="#7b7eb8" stroke-width="0.6"/>
<path d="M114.9 95.1 111.7 92.9 109.4 95.5 109.9 96.8 111.9 98.8 115.5 96.8 115.4 96.0Z" fill="#b8bae2" stroke="#7b7eb8" stroke-width="0.6"/>
<path d="M140.3 96.4 142.7 98.8 141.6 100.2 136.9 99.2 137.9 98.0 139.9 96.5Z" fill="#979bd1" stroke="#7b7eb8" stroke-width="0.6"/>
<path d="M149.0 91.9 147.7 97.0 149.7 98.0 151.8 96.6 152.3 91.9 149.7 91.6Z" fill="#b8bae2" stroke="#7b7eb8" stroke-width="0.6"/>
<path d="M155.3 90.5 158.6 93.6 158.7 96.1 157.8 96.9 152.7 96.7 153.2 92.0Z" fill="#9498d0" stroke="#7b7eb8" stroke-width="0.6"/>
<path d="M160.4 93.6 164.3 90.2 168.0 93.6 166.4 96.6 164.4 97.1 160.5 96.0Z" fill="#999dd3" stroke="#7b7eb8" stroke-width="0.6"/>
<path d="M169.5 94.4 170.2 94.2 174.8 96.4 175.6 98.8 171.1 101.6 167.9 97.4Z" fill="#a2a5d7" stroke="#7b7eb8" stroke-width="0.6"/>
<path d="M96.2 103.7 93.3 101.9 93.2 99.4 94.2 97.2 94.4 97.2 98.6 99.2 96.8 103.3Z" fill="#abaedc" stroke="#7b7eb8" stroke-width="0.6"/>
<path d="M103.2 103.5 102.6 104.0 97.5 103.6 99.2 99.5 101.1 99.3 103.0 102.0Z" fill="#989cd2" stroke="#7b7eb8" stroke-width="0.6"/>
<path d="M110.9 103.4 109.3 105.2 104.9 103.2 104.6 101.7 108.9 97.8 110.9 99.8Z" fill="#a8abda" stroke="#7b7eb8" stroke-width="0.6"/>
<path d="M118.3 99.2 117.4 103.4 112.4 103.4 112.5 99.8 116.0 97.9Z" fill="#b6b8e1" stroke="#7b7eb8" stroke-width="0.6"/>
<path d="M119.3 104.5 118.6 103.7 119.4 99.4 119.9 99.3 120.8 99.4 124.3 100.5 124.7 100.8 123.9 104.1 121.5 105.4Z" fill="#a4a7d8" stroke="#7b7eb8" stroke-width="0.6"/>
<path d="M130.3 101.3 132.3 102.3 132.7 104.8 131.0 106.9 129.2 107.3 125.3 104.4 126.1 101.1 127.9 100.6Z" fill="#afb2de" stroke="#7b7eb8" stroke-width="0.6"/>
<path d="M136.5 100.1 136.8 100.1 141.4 101.1 141.3 102.5 138.6 105.6 134.7 104.5 134.3 102.0 134.9 101.3Z" fill="#a9acdb" stroke="#7b7eb8" stroke-width="0.6"/>
<path d="M146.5 98.8 146.7 98.8 148.7 99.8 149.6 103.6 146.1 105.4 142.7 102.7 142.9 101.2 144.0 99.8Z" fill="#a9acda" stroke="#7b7eb8" stroke-width="0.6"/>
<path d="M151.4 103.2 152.7 104.3 157.5 102.4 157.8 98.3 152.7 98.1 150.5 99.4Z" fill="#9a9ed3" stroke="#7b7eb8" stroke-width="0.6"/>
<path d="M160.1 97.5 159.2 98.4 159.0 102.5 161.2 104.5 163.4 103.9 164.0 98.6Z" fill="#a5a8d8" stroke="#7b7eb8" stroke-width="0.6"/>
<path d="M164.8 98.7 164.2 104.0 167.4 105.0 169.8 103.2 170.0 102.4 166.8 98.2Z" fill="#b4b7e0" stroke="#7b7eb8" stroke-width="0.6"/>
<path d="M92.7 111.5 89.9 109.6 89.3 105.7 92.6 103.0 95.5 104.8 95.6 110.1Z" fill="#acafdc" stroke="#7b7eb8" stroke-width="0.6"/>
<path d="M96.9 110.1 96.8 104.8 97.4 104.4 102.5 104.7 99.6 110.5Z" fill="#9c9fd4" stroke="#7b7eb8" stroke-width="0.6"/>
<path d="M108.6 106.7 104.2 104.7 103.5 105.2 100.6 111.0 101.9 112.0 105.7 111.7 108.9 109.1Z" fill="#a4a7d8" stroke="#7b7eb8" stroke-width="0.6"/>
<path d="M118.1 105.5 117.4 104.7 112.4 104.7 110.8 106.5 111.1 108.8 114.0 111.1 115.0 110.8Z" fill="#a8aada" stroke="#7b7eb8" stroke-width="0.6"/>
<path d="M118.7 105.9 115.6 111.1 119.7 111.7 121.2 110.5 120.9 106.8Z" fill="#a0a3d6" stroke="#7b7eb8" stroke-width="0.6"/>
<path d="M122.2 106.7 124.6 105.4 128.5 108.3 126.1 111.7 122.5 110.4Z" fill="#a9acda" stroke="#7b7eb8" stroke-width="0.6"/>
<path d="M135.1 113.8 132.6 108.1 134.3 106.1 138.1 107.2 139.3 109.3 137.7 114.6Z" fill="#abaddb" stroke="#7b7eb8" stroke-width="0.6"/>
<path d="M145.5 106.0 144.5 108.5 140.7 108.5 139.5 106.4 142.2 103.3Z" fill="#9599d0" stroke="#7b7eb8" stroke-width="0.6"/>
<path d="M146.6 106.5 145.6 109.0 147.1 111.3 151.2 111.1 152.4 110.2 151.5 105.8 150.2 104.7Z" fill="#9c9fd4" stroke="#7b7eb8" stroke-width="0.6"/>
<path d="M155.2 110.1 154.1 109.8 153.2 105.5 158.0 103.6 160.2 105.6 159.7 108.2Z" fill="#acaedc" stroke="#7b7eb8" stroke-width="0.6"/>
<path d="M166.7 111.9 165.3 113.3 161.1 108.5 161.6 105.9 163.8 105.3 167.0 106.2Z" fill="#9c9fd4" stroke="#7b7eb8" stroke-width="0.6"/>
<path d="M174.7 109.0 171.9 111.5 168.1 112.0 168.4 106.3 170.7 104.6 174.6 108.6Z" fill="#979ad1" stroke="#7b7eb8" stroke-width="0.6"/>
<path d="M93.5 114.6 95.4 118.5 100.6 117.1 100.6 113.7 99.3 112.6 96.6 112.2 93.6 113.6Z" fill="#afb2de" stroke="#7b7eb8" stroke-width="0.6"/>
<path d="M107.5 117.8 105.8 113.4 102.0 113.7 102.1 117.1 102.2 117.4Z" fill="#a0a3d6" stroke="#7b7eb8" stroke-width="0.6"/>
<path d="M112.8 117.0 109.4 118.6 108.4 117.5 106.8 113.0 109.9 110.4 112.9 112.6Z" fill="#b6b9e1" stroke="#7b7eb8" stroke-width="0.6"/>
<path d="M115.5 112.3 114.5 112.6 114.4 117.0 116.1 118.1 120.0 117.3 119.6 112.9Z" fill="#a8abda" stroke="#7b7eb8" stroke-width="0.6"/>
<path d="M122.1 111.6 125.7 112.9 126.3 115.1 122.7 118.2 121.0 117.2 120.6 112.8Z" fill="#989bd2" stroke="#7b7eb8" stroke-width="0.6"/>
<path d="M130.2 115.8 134.0 114.3 131.4 108.6 129.6 109.1 127.2 112.5 127.8 114.7Z" fill="#abaedb" stroke="#7b7eb8" stroke-width="0.6"/>
<path d="M139.3 115.5 143.6 116.3 146.0 112.0 144.5 109.7 140.6 109.7 139.0 115.0Z" fill="#9da1d5" stroke="#7b7eb8" stroke-width="0.6"/>
<path d="M151.0 117.1 151.3 112.5 147.2 112.7 144.7 117.0 146.2 118.8Z" fill="#b1b4df" stroke="#7b7eb8" stroke-width="0.6"/>
<path d="M157.7 115.9 153.8 118.5 152.2 117.2 152.5 112.6 153.6 111.6 154.8 111.9Z" fill="#aeb1dd" stroke="#7b7eb8" stroke-width="0.6"/>
<path d="M163.8 115.9 162.0 116.3 158.6 115.2 155.7 111.3 160.1 109.4 164.4 114.1Z" fill="#afb2de" stroke="#7b7eb8" stroke-width="0.6"/>
<path d="M172.1 113.1 174.4 116.5 172.6 119.7 166.5 116.9 166.3 116.6 166.9 114.9 168.3 113.5Z" fill="#969ad1" stroke="#7b7eb8" stroke-width="0.6"/>
<path d="M94.3 121.5 94.2 119.2 92.2 115.3 89.0 118.7 88.8 121.8 91.6 122.9Z" fill="#9599d1" stroke="#7b7eb8" stroke-width="0.6"/>
<path d="M99.1 123.4 101.2 122.0 100.9 118.0 100.8 117.7 95.6 119.1 95.7 121.4Z" fill="#b1b3de" stroke="#7b7eb8" stroke-width="0.6"/>
<path d="M107.5 118.3 102.2 117.9 102.4 121.9 105.6 122.3 107.6 121.6 108.5 119.5Z" fill="#999dd3" stroke="#7b7eb8" stroke-width="0.6"/>
<path d="M116.3 119.4 116.9 124.4 118.6 125.3 122.8 123.3 121.9 119.6 120.2 118.6Z" fill="#9b9fd4" stroke="#7b7eb8" stroke-width="0.6"/>
<path d="M129.6 117.2 129.7 122.4 127.6 124.5 124.5 122.9 123.6 119.2 127.1 116.1Z" fill="#9599d1" stroke="#7b7eb8" stroke-width="0.6"/>
<path d="M130.8 117.2 134.5 115.7 137.1 116.5 137.4 116.9 135.8 121.9 130.9 122.4Z" fill="#9a9ed3" stroke="#7b7eb8" stroke-width="0.6"/>
<path d="M146.6 120.3 146.6 119.9 151.4 118.2 153.0 119.5 153.9 123.2 151.2 125.5Z" fill="#a5a8d9" stroke="#7b7eb8" stroke-width="0.6"/>
<path d="M157.6 123.0 161.5 117.7 158.2 116.7 154.3 119.2 155.2 122.9Z" fill="#b6b9e1" stroke="#7b7eb8" stroke-width="0.6"/>
<clipPath id="ie1"><polygon points="150.5,84.3 149.7,86.5 147.9,88.4 145.8,90.0 143.8,91.5 142.2,93.2 140.4,95.1 138.0,97.1 134.8,98.6 131.0,99.1 127.2,98.7 123.8,97.6 120.7,96.2 118.1,94.6 115.9,92.8 114.3,90.7 113.7,88.5 113.7,86.3 113.9,84.3 113.9,82.3 113.8,80.1 114.0,77.8 115.3,75.5 117.7,73.7 120.9,72.6 124.3,72.1 127.7,71.8 131.0,71.5 134.4,71.3 138.0,71.5 141.4,72.3 144.3,73.8 146.4,75.7 148.1,77.7 149.4,79.8 150.3,82.0"/></clipPath>
<polygon points="150.5,84.3 149.7,86.5 147.9,88.4 145.8,90.0 143.8,91.5 142.2,93.2 140.4,95.1 138.0,97.1 134.8,98.6 131.0,99.1 127.2,98.7 123.8,97.6 120.7,96.2 118.1,94.6 115.9,92.8 114.3,90.7 113.7,88.5 113.7,86.3 113.9,84.3 113.9,82.3 113.8,80.1 114.0,77.8 115.3,75.5 117.7,73.7 120.9,72.6 124.3,72.1 127.7,71.8 131.0,71.5 134.4,71.3 138.0,71.5 141.4,72.3 144.3,73.8 146.4,75.7 148.1,77.7 149.4,79.8 150.3,82.0" fill="none" stroke="#eaeaf4" stroke-width="0.9"/>
<g clip-path="url(#ie1)"><polygon points="150.5,84.3 149.7,86.5 147.9,88.4 145.8,90.0 143.8,91.5 142.2,93.2 140.4,95.1 138.0,97.1 134.8,98.6 131.0,99.1 127.2,98.7 123.8,97.6 120.7,96.2 118.1,94.6 115.9,92.8 114.3,90.7 113.7,88.5 113.7,86.3 113.9,84.3 113.9,82.3 113.8,80.1 114.0,77.8 115.3,75.5 117.7,73.7 120.9,72.6 124.3,72.1 127.7,71.8 131.0,71.5 134.4,71.3 138.0,71.5 141.4,72.3 144.3,73.8 146.4,75.7 148.1,77.7 149.4,79.8 150.3,82.0" fill="#cfaba3"/><circle cx="121.0" cy="83.4" r="1.7" fill="#7b4647"/><circle cx="127.3" cy="79.4" r="1.3" fill="#784344"/><circle cx="116.0" cy="82.2" r="1.1" fill="#9f6965"/><circle cx="137.5" cy="77.0" r="1.3" fill="#97625f"/><circle cx="140.5" cy="83.4" r="2.0" fill="#97615e"/><circle cx="140.4" cy="81.7" r="1.2" fill="#764243"/><circle cx="133.2" cy="96.6" r="2.2" fill="#865150"/><circle cx="139.6" cy="90.2" r="1.4" fill="#8e5957"/><circle cx="127.7" cy="72.9" r="1.6" fill="#85504f"/><circle cx="118.6" cy="86.0" r="1.6" fill="#905b59"/><circle cx="128.1" cy="76.5" r="1.8" fill="#754142"/><circle cx="143.4" cy="86.7" r="1.5" fill="#703c3d"/><circle cx="142.8" cy="88.6" r="2.2" fill="#98625f"/><circle cx="142.7" cy="85.8" r="1.5" fill="#7e4949"/><circle cx="141.0" cy="92.1" r="2.1" fill="#814c4c"/><circle cx="134.7" cy="89.2" r="1.1" fill="#945f5c"/><circle cx="133.0" cy="95.4" r="2.0" fill="#723e40"/><circle cx="135.4" cy="91.6" r="2.0" fill="#935d5b"/><circle cx="126.5" cy="93.0" r="1.5" fill="#865150"/><circle cx="134.0" cy="77.2" r="2.1" fill="#9c6663"/><circle cx="115.6" cy="76.7" r="2.2" fill="#774243"/><circle cx="141.0" cy="83.9" r="2.1" fill="#744041"/><circle cx="126.6" cy="92.9" r="2.1" fill="#905b59"/><circle cx="136.3" cy="96.2" r="2.1" fill="#875251"/><circle cx="141.8" cy="86.7" r="1.5" fill="#834e4e"/><circle cx="145.5" cy="80.7" r="2.1" fill="#723d3f"/><circle cx="131.5" cy="95.6" r="1.5" fill="#794546"/><circle cx="137.4" cy="86.1" r="1.6" fill="#895453"/><circle cx="118.8" cy="90.2" r="1.4" fill="#6f3b3d"/><circle cx="125.4" cy="77.1" r="1.7" fill="#814c4c"/><circle cx="130.1" cy="88.9" r="1.5" fill="#7d4849"/><circle cx="135.8" cy="87.1" r="1.7" fill="#6f3b3d"/><circle cx="140.1" cy="78.6" r="1.6" fill="#885352"/><circle cx="139.0" cy="85.1" r="2.0" fill="#8a5553"/><circle cx="118.7" cy="84.6" r="2.0" fill="#875251"/><circle cx="135.7" cy="72.7" r="2.2" fill="#925d5a"/><circle cx="124.6" cy="76.1" r="1.7" fill="#8b5654"/><circle cx="113.4" cy="82.4" r="2.1" fill="#713d3e"/><circle cx="131.2" cy="73.8" r="1.8" fill="#9b6662"/><circle cx="144.3" cy="87.2" r="1.6" fill="#9d6864"/><circle cx="138.7" cy="92.9" r="1.3" fill="#945e5c"/><circle cx="114.1" cy="85.1" r="1.5" fill="#9a6461"/><circle cx="141.4" cy="84.6" r="2.0" fill="#9a6461"/><circle cx="132.9" cy="76.9" r="1.2" fill="#915c5a"/><circle cx="130.2" cy="79.5" r="2.2" fill="#885352"/><circle cx="144.8" cy="86.3" r="1.5" fill="#733f40"/><circle cx="145.2" cy="76.0" r="1.2" fill="#844f4f"/><circle cx="128.6" cy="95.0" r="1.2" fill="#7f4a4a"/><circle cx="119.2" cy="89.3" r="1.6" fill="#8c5755"/><circle cx="148.6" cy="79.7" r="2.2" fill="#97625f"/><circle cx="132.5" cy="91.4" r="1.7" fill="#8e5957"/><circle cx="121.3" cy="79.2" r="2.3" fill="#7e4949"/><circle cx="138.8" cy="84.9" r="1.4" fill="#935d5b"/><circle cx="134.6" cy="80.5" r="1.4" fill="#7a4646"/><circle cx="135.2" cy="72.3" r="1.4" fill="#733f40"/><circle cx="149.8" cy="81.6" r="2.0" fill="#865150"/><circle cx="130.7" cy="72.8" r="1.7" fill="#7c4747"/><circle cx="115.0" cy="82.6" r="1.5" fill="#8e5957"/><circle cx="142.6" cy="94.5" r="1.4" fill="#794546"/><circle cx="149.5" cy="81.2" r="2.2" fill="#98625f"/><circle cx="141.3" cy="74.6" r="1.8" fill="#723e3f"/><circle cx="128.9" cy="72.4" r="2.1" fill="#703c3e"/><circle cx="146.7" cy="88.5" r="1.7" fill="#9b6562"/><circle cx="144.6" cy="83.8" r="1.9" fill="#8f5a58"/><circle cx="126.6" cy="76.4" r="1.9" fill="#713d3f"/><circle cx="144.6" cy="77.7" r="2.1" fill="#85504f"/><circle cx="134.8" cy="93.1" r="1.9" fill="#895453"/><circle cx="135.4" cy="86.7" r="1.6" fill="#7a4646"/><circle cx="132.5" cy="91.2" r="1.6" fill="#915b59"/><circle cx="145.0" cy="78.6" r="1.1" fill="#996460"/><circle cx="117.9" cy="77.2" r="1.8" fill="#804b4b"/><circle cx="127.0" cy="88.5" r="1.9" fill="#713d3e"/><circle cx="123.2" cy="73.0" r="1.9" fill="#8c5755"/><circle cx="137.8" cy="72.4" r="2.1" fill="#a06a66"/><circle cx="125.2" cy="85.3" r="1.8" fill="#8e5957"/><circle cx="141.2" cy="76.4" r="1.5" fill="#6e3a3c"/><circle cx="138.7" cy="75.1" r="2.3" fill="#8c5655"/><circle cx="141.4" cy="75.1" r="2.3" fill="#85504f"/><circle cx="141.4" cy="79.1" r="1.1" fill="#7e4a4a"/><circle cx="119.5" cy="94.7" r="1.6" fill="#7c4748"/><circle cx="128.1" cy="79.3" r="1.5" fill="#824d4d"/><circle cx="142.0" cy="91.6" r="1.6" fill="#96605e"/><circle cx="120.7" cy="95.2" r="1.3" fill="#895352"/><circle cx="131.9" cy="88.2" r="1.5" fill="#9b6562"/><circle cx="127.3" cy="93.4" r="1.7" fill="#7b4747"/><circle cx="123.9" cy="83.2" r="1.5" fill="#7c4848"/><circle cx="137.9" cy="73.7" r="1.9" fill="#8c5755"/><circle cx="142.4" cy="75.9" r="1.2" fill="#754041"/><circle cx="130.8" cy="72.3" r="2.3" fill="#955f5d"/><circle cx="139.3" cy="92.7" r="1.8" fill="#8c5755"/><circle cx="143.8" cy="93.9" r="1.7" fill="#7b4747"/><circle cx="143.8" cy="83.3" r="1.2" fill="#8f5a58"/><circle cx="130.4" cy="91.2" r="1.5" fill="#8c5755"/><circle cx="124.1" cy="94.1" r="2.2" fill="#a06a66"/><circle cx="145.4" cy="76.3" r="1.4" fill="#97625f"/><circle cx="143.9" cy="89.8" r="1.2" fill="#733f40"/><circle cx="139.2" cy="82.5" r="2.0" fill="#885352"/><circle cx="148.5" cy="84.4" r="1.2" fill="#9a6561"/><circle cx="137.0" cy="75.6" r="1.6" fill="#6f3b3d"/><circle cx="128.9" cy="80.1" r="1.7" fill="#9c6663"/><circle cx="127.3" cy="79.2" r="2.0" fill="#915c59"/><polygon points="150.5,84.3 149.7,86.5 147.9,88.4 145.8,90.0 143.8,91.5 142.2,93.2 140.4,95.1 138.0,97.1 134.8,98.6 131.0,99.1 127.2,98.7 123.8,97.6 120.7,96.2 118.1,94.6 115.9,92.8 114.3,90.7 113.7,88.5 113.7,86.3 113.9,84.3 113.9,82.3 113.8,80.1 114.0,77.8 115.3,75.5 117.7,73.7 120.9,72.6 124.3,72.1 127.7,71.8 131.0,71.5 134.4,71.3 138.0,71.5 141.4,72.3 144.3,73.8 146.4,75.7 148.1,77.7 149.4,79.8 150.3,82.0" fill="none" stroke="#875251" stroke-width="2.0" stroke-opacity="0.6"/></g>
<path d="M150 60 L158 72 L167 80" stroke="#eeeef4" stroke-width="4" fill="none" stroke-linejoin="round"/>
<path d="M100 98 L118 104 L140 96" stroke="#eeeef4" stroke-width="1.5" fill="none" stroke-linejoin="round"/>
<path d="M119.6 109.3H143.8M119.6 107.3V111.3M143.8 107.3V111.3" stroke="#111" stroke-width="1.6" fill="none"/>
</g></g>
<rect x="98.3" y="60" width="68.9" height="54.6" fill="none" stroke="#555" stroke-width="1"/>
<g clip-path="url(#c2)"><g filter="url(#bl)">
<rect x="170.8" y="60" width="71.5" height="55.6" fill="#ebe2da"/>
<path d="M170.8 52.2 169.2 49.7 165.0 48.5 162.4 50.0 162.1 54.2 165.5 55.7Z" fill="#b3b8d8" stroke="#8086b5" stroke-width="0.6"/>
<path d="M184.0 56.3 181.1 51.7 186.3 49.6 190.2 53.6Z" fill="#b3b8d8" stroke="#8086b5" stroke-width="0.6"/>
<path d="M166.5 59.1 161.6 64.7 158.6 58.2 161.5 55.5 164.9 57.0Z" fill="#a4abd1" stroke="#8086b5" stroke-width="0.6"/>
<path d="M171.9 60.9 167.4 58.3 165.8 56.2 171.2 52.8 173.9 54.2 172.4 60.6Z" fill="#9ca4cd" stroke="#8086b5" stroke-width="0.6"/>
<path d="M173.8 60.9 180.7 62.7 182.9 60.8 182.6 57.1 179.8 52.5 179.5 52.4 175.3 54.5Z" fill="#b3b8d8" stroke="#8086b5" stroke-width="0.6"/>
<path d="M184.3 57.0 190.5 54.3 193.1 54.8 188.3 61.6 184.5 60.7Z" fill="#b3b8d8" stroke="#8086b5" stroke-width="0.6"/>
<path d="M188.9 62.1 190.1 63.3 198.7 59.2 198.2 57.2 194.7 55.1 193.8 55.3Z" fill="#aeb4d6" stroke="#8086b5" stroke-width="0.6"/>
<path d="M204.5 62.4 201.5 59.8 200.9 58.7 200.4 56.6 205.8 51.8 210.0 54.7 207.4 61.2 205.5 62.8Z" fill="#9ea6ce" stroke="#8086b5" stroke-width="0.6"/>
<path d="M217.1 60.6 214.7 55.2 210.8 55.1 208.2 61.6Z" fill="#b3b8d8" stroke="#8086b5" stroke-width="0.6"/>
<path d="M224.9 55.7 221.7 60.5 218.9 60.2 218.6 59.9 216.2 54.5 216.3 54.4 221.6 50.5Z" fill="#a0a7cf" stroke="#8086b5" stroke-width="0.6"/>
<path d="M231.9 55.3 232.7 57.4 230.4 62.9 224.9 63.3 222.8 61.2 226.0 56.4Z" fill="#b5bad9" stroke="#8086b5" stroke-width="0.6"/>
<path d="M233.7 54.6 234.5 56.7 241.1 60.4 242.0 59.7 242.1 53.4 238.8 51.0 233.7 54.5Z" fill="#afb5d6" stroke="#8086b5" stroke-width="0.6"/>
<path d="M251.5 55.6 251.3 56.2 247.2 59.6 243.1 59.7 243.2 53.4 246.4 52.4Z" fill="#b0b5d6" stroke="#8086b5" stroke-width="0.6"/>
<path d="M171.3 61.9 170.4 64.0 165.0 67.5 162.4 67.2 162.0 65.0 166.8 59.4Z" fill="#9da4cd" stroke="#8086b5" stroke-width="0.6"/>
<path d="M172.9 62.7 172.0 64.7 175.6 71.3 180.3 67.1 180.3 64.1 173.4 62.4Z" fill="#a6add2" stroke="#8086b5" stroke-width="0.6"/>
<path d="M184.1 62.2 181.9 64.1 181.9 67.1 184.4 70.0 189.8 66.3 189.0 64.4 187.8 63.2Z" fill="#b3b8d8" stroke="#8086b5" stroke-width="0.6"/>
<path d="M194.1 67.1 199.5 60.8 199.0 59.7 190.4 63.8 191.2 65.7 192.4 66.9Z" fill="#9ea5ce" stroke="#8086b5" stroke-width="0.6"/>
<path d="M198.4 68.7 200.1 67.8 203.2 64.0 200.1 61.3 194.7 67.6 194.9 67.9Z" fill="#9ba3cd" stroke="#8086b5" stroke-width="0.6"/>
<path d="M206.7 64.2 209.3 66.7 210.2 67.1 215.1 66.3 217.5 61.7 217.2 61.3 208.3 62.3 206.4 63.9 206.6 64.1Z" fill="#a8aed3" stroke="#8086b5" stroke-width="0.6"/>
<path d="M218.0 71.4 218.7 71.8 223.7 68.6 223.6 64.6 221.5 62.6 218.7 62.3 216.3 66.9Z" fill="#b7bcda" stroke="#8086b5" stroke-width="0.6"/>
<path d="M227.1 70.7 232.3 66.4 230.5 64.1 225.0 64.6 225.1 68.5Z" fill="#afb5d6" stroke="#8086b5" stroke-width="0.6"/>
<path d="M236.4 67.6 233.4 65.6 231.6 63.3 233.9 57.9 240.5 61.5 239.1 67.2Z" fill="#a2a9d0" stroke="#8086b5" stroke-width="0.6"/>
<path d="M240.8 67.6 242.2 61.9 243.1 61.3 247.2 61.2 249.9 67.0 242.2 68.8Z" fill="#9da4cd" stroke="#8086b5" stroke-width="0.6"/>
<path d="M162.1 69.1 159.3 71.4 159.1 72.1 161.4 77.2 167.1 78.3 168.2 74.3 164.8 69.5Z" fill="#b6bbd9" stroke="#8086b5" stroke-width="0.6"/>
<path d="M171.2 65.2 174.8 71.8 174.7 72.1 169.3 73.6 165.8 68.7Z" fill="#b7bbd9" stroke="#8086b5" stroke-width="0.6"/>
<path d="M181.0 67.9 183.6 70.7 184.8 75.1 178.6 76.1 176.3 72.5 176.4 72.1Z" fill="#b2b7d7" stroke="#8086b5" stroke-width="0.6"/>
<path d="M189.3 73.4 186.8 74.7 186.2 74.9 186.0 74.8 184.7 70.4 190.1 66.7 191.4 68.0Z" fill="#a1a8cf" stroke="#8086b5" stroke-width="0.6"/>
<path d="M195.4 72.7 191.0 74.0 190.2 73.8 192.3 68.3 193.9 68.5 194.2 68.7Z" fill="#b4b9d8" stroke="#8086b5" stroke-width="0.6"/>
<path d="M210.3 68.2 215.2 67.4 217.0 71.8 212.7 73.0 211.2 71.8Z" fill="#9aa2cc" stroke="#8086b5" stroke-width="0.6"/>
<path d="M221.5 77.3 227.1 75.4 227.5 74.5 226.2 71.5 224.2 69.4 219.2 72.6 219.8 74.8Z" fill="#a0a7cf" stroke="#8086b5" stroke-width="0.6"/>
<path d="M233.1 72.5 228.7 74.0 227.4 71.0 232.6 66.8 235.7 68.8Z" fill="#a5acd1" stroke="#8086b5" stroke-width="0.6"/>
<path d="M237.7 79.2 241.5 72.6 240.8 70.3 239.4 69.1 236.8 69.5 234.2 73.3Z" fill="#bbbfdb" stroke="#8086b5" stroke-width="0.6"/>
<path d="M243.2 72.0 248.0 75.8 250.4 75.1 251.2 68.4 250.1 67.9 242.4 69.8Z" fill="#9ba3cd" stroke="#8086b5" stroke-width="0.6"/>
<path d="M168.5 82.9 166.9 79.5 161.2 78.4 158.0 84.3 159.6 86.3 167.6 84.5Z" fill="#9fa7cf" stroke="#8086b5" stroke-width="0.6"/>
<path d="M170.1 82.1 168.5 78.7 169.6 74.7 175.0 73.3 177.3 76.9 175.8 80.9 174.8 81.5Z" fill="#b3b8d8" stroke="#8086b5" stroke-width="0.6"/>
<path d="M185.8 82.4 185.4 83.0 183.4 84.4 177.2 81.5 178.8 77.4 185.0 76.5 185.3 76.6 185.8 80.8Z" fill="#b4b9d8" stroke="#8086b5" stroke-width="0.6"/>
<path d="M218.4 80.7 220.5 79.3 221.5 83.7 219.8 85.5 217.8 84.9 216.8 83.4 217.1 82.1Z" fill="#a3aad0" stroke="#8086b5" stroke-width="0.6"/>
<path d="M221.8 78.8 221.9 78.5 227.6 76.6 229.8 81.2 227.2 84.7 222.8 83.4 221.8 79.0Z" fill="#9da4cd" stroke="#8086b5" stroke-width="0.6"/>
<path d="M237.0 79.6 237.0 81.2 231.0 80.7 228.7 76.0 229.1 75.2 233.5 73.7Z" fill="#b7bcda" stroke="#8086b5" stroke-width="0.6"/>
<path d="M238.5 79.6 238.5 81.3 239.1 82.1 242.6 83.0 244.9 81.8 247.2 76.9 242.4 73.0Z" fill="#bbbfdc" stroke="#8086b5" stroke-width="0.6"/>
<path d="M167.9 85.8 159.9 87.6 159.9 88.1 160.7 90.7 168.5 92.0 169.0 90.4Z" fill="#b9bddb" stroke="#8086b5" stroke-width="0.6"/>
<path d="M170.3 83.9 175.0 83.3 177.0 90.1 170.5 90.1 169.4 85.5Z" fill="#adb3d5" stroke="#8086b5" stroke-width="0.6"/>
<path d="M175.8 83.1 176.8 82.4 182.9 85.4 182.1 89.8 179.3 91.1 177.8 89.9Z" fill="#9da5cd" stroke="#8086b5" stroke-width="0.6"/>
<path d="M189.3 90.1 189.3 90.0 188.7 87.2 186.2 84.2 184.2 85.6 183.4 90.1 187.2 92.2 189.1 90.5Z" fill="#b3b8d8" stroke="#8086b5" stroke-width="0.6"/>
<path d="M228.2 90.3 220.7 91.4 220.3 91.1 220.8 86.4 222.5 84.7 226.9 85.9Z" fill="#b0b5d6" stroke="#8086b5" stroke-width="0.6"/>
<path d="M237.5 83.4 234.9 88.2 230.2 90.4 229.6 89.9 228.2 85.5 230.9 82.0 236.8 82.6Z" fill="#b6bbd9" stroke="#8086b5" stroke-width="0.6"/>
<path d="M238.6 84.0 236.0 88.8 240.5 94.3 243.3 90.5 242.1 84.9Z" fill="#b4b9d8" stroke="#8086b5" stroke-width="0.6"/>
<path d="M243.5 84.6 244.7 90.2 249.4 91.2 252.3 88.6 251.8 86.4 245.7 83.5Z" fill="#abb1d4" stroke="#8086b5" stroke-width="0.6"/>
<path d="M168.5 96.5 168.5 92.4 160.7 91.2 160.8 97.2 166.9 97.8Z" fill="#bbbfdc" stroke="#8086b5" stroke-width="0.6"/>
<path d="M170.1 96.5 170.0 92.4 170.5 90.8 177.0 90.8 178.5 92.1 177.1 96.9 176.1 97.4Z" fill="#aab0d3" stroke="#8086b5" stroke-width="0.6"/>
<path d="M180.0 92.5 182.7 91.2 186.6 93.3 187.6 97.6 183.1 99.2 178.6 97.3Z" fill="#a9afd3" stroke="#8086b5" stroke-width="0.6"/>
<path d="M194.6 94.5 192.7 92.5 189.9 91.4 187.9 93.0 188.9 97.3 192.0 99.2 193.4 98.6 194.6 94.9Z" fill="#b0b5d6" stroke="#8086b5" stroke-width="0.6"/>
<path d="M208.9 96.4 206.4 98.6 206.3 98.9 208.3 101.3 212.9 99.3 212.7 98.3 210.4 96.2Z" fill="#b5bad9" stroke="#8086b5" stroke-width="0.6"/>
<path d="M214.1 98.1 216.1 93.4 216.7 92.8 216.9 92.7 219.3 92.4 219.7 92.7 220.8 96.6 217.6 101.4 214.3 99.1Z" fill="#aeb4d5" stroke="#8086b5" stroke-width="0.6"/>
<path d="M228.9 91.8 229.3 94.9 227.6 97.7 221.9 96.3 220.8 92.4 228.4 91.2Z" fill="#babedb" stroke="#8086b5" stroke-width="0.6"/>
<path d="M230.7 91.5 231.1 94.6 239.5 97.3 239.9 94.8 235.4 89.4Z" fill="#a3aad0" stroke="#8086b5" stroke-width="0.6"/>
<path d="M241.6 95.1 241.2 97.6 241.5 98.3 242.6 99.4 249.7 97.6 249.2 92.3 244.5 91.3Z" fill="#b8bdda" stroke="#8086b5" stroke-width="0.6"/>
<path d="M167.4 105.0 163.8 106.8 158.3 101.8 158.4 100.6 160.6 99.0 166.8 99.5Z" fill="#b8bcda" stroke="#8086b5" stroke-width="0.6"/>
<path d="M171.3 106.9 175.6 104.2 175.9 99.0 169.8 98.1 168.2 99.4 168.8 104.8Z" fill="#a6acd2" stroke="#8086b5" stroke-width="0.6"/>
<path d="M176.8 104.2 180.7 107.0 182.5 105.1 182.6 100.4 178.1 98.5 177.1 99.1Z" fill="#9ba3cc" stroke="#8086b5" stroke-width="0.6"/>
<path d="M190.7 103.1 191.0 100.7 188.0 98.9 183.5 100.4 183.5 105.1 189.7 105.7Z" fill="#aeb4d6" stroke="#8086b5" stroke-width="0.6"/>
<path d="M198.6 107.1 200.1 104.7 199.0 102.1 194.9 100.5 194.2 100.4 192.8 101.0 192.4 103.4Z" fill="#afb5d6" stroke="#8086b5" stroke-width="0.6"/>
<path d="M207.5 102.0 206.9 104.4 205.4 105.4 201.2 104.3 200.1 101.6 202.6 99.7 202.9 99.5 205.4 99.7Z" fill="#bbbfdb" stroke="#8086b5" stroke-width="0.6"/>
<path d="M213.4 100.4 216.7 102.7 216.7 102.7 213.6 108.7 208.2 104.7 208.8 102.4Z" fill="#adb3d5" stroke="#8086b5" stroke-width="0.6"/>
<path d="M227.7 103.9 227.4 98.6 221.7 97.2 218.5 102.0 218.5 102.0 224.4 105.0Z" fill="#b3b8d8" stroke="#8086b5" stroke-width="0.6"/>
<path d="M229.3 103.8 230.6 104.5 239.4 99.1 239.1 98.4 230.8 95.7 229.0 98.5Z" fill="#b4b9d8" stroke="#8086b5" stroke-width="0.6"/>
<path d="M238.6 108.8 241.3 102.5 241.0 101.0 239.9 99.9 231.1 105.3 232.3 107.2Z" fill="#a0a7cf" stroke="#8086b5" stroke-width="0.6"/>
<path d="M248.8 107.2 252.0 105.2 250.5 99.2 250.0 98.9 242.9 100.7 243.2 102.1Z" fill="#b1b6d7" stroke="#8086b5" stroke-width="0.6"/>
<path d="M170.4 108.1 170.8 111.4 167.2 114.0 162.8 111.4 164.3 107.8 167.9 105.9Z" fill="#a9afd3" stroke="#8086b5" stroke-width="0.6"/>
<path d="M171.9 107.9 172.4 111.2 177.4 113.7 180.2 111.8 180.1 107.9 176.2 105.1Z" fill="#a1a8cf" stroke="#8086b5" stroke-width="0.6"/>
<path d="M189.9 108.7 185.5 112.8 181.7 111.8 181.6 107.8 183.4 105.9 189.6 106.5Z" fill="#a3aad0" stroke="#8086b5" stroke-width="0.6"/>
<path d="M197.8 110.2 195.1 110.8 191.5 108.5 191.2 106.3 192.2 103.7 198.4 107.4Z" fill="#a6add2" stroke="#8086b5" stroke-width="0.6"/>
<path d="M198.8 110.5 201.0 111.9 204.4 112.1 205.2 106.4 200.9 105.3 199.4 107.7Z" fill="#b3b8d8" stroke="#8086b5" stroke-width="0.6"/>
<path d="M206.2 106.5 205.4 112.3 205.4 112.3 213.2 110.8 213.0 109.4 207.6 105.5Z" fill="#adb3d5" stroke="#8086b5" stroke-width="0.6"/>
<path d="M214.7 109.3 217.8 103.3 223.7 106.3 221.4 112.0 214.9 110.7 214.9 110.7Z" fill="#a5acd1" stroke="#8086b5" stroke-width="0.6"/>
<path d="M224.9 116.8 224.7 116.7 222.7 112.5 225.0 106.8 228.3 105.7 229.5 106.3 230.8 108.2 230.0 113.3Z" fill="#9ca4cd" stroke="#8086b5" stroke-width="0.6"/>
<path d="M235.2 115.8 239.1 113.8 239.5 112.7 238.2 110.0 232.0 108.4 231.3 113.5Z" fill="#b5bad9" stroke="#8086b5" stroke-width="0.6"/>
<path d="M241.0 112.0 247.3 111.1 248.1 108.1 242.4 103.0 239.7 109.3Z" fill="#b4b9d8" stroke="#8086b5" stroke-width="0.6"/>
<path d="M166.2 119.1 161.4 120.9 159.4 119.3 160.2 112.9 162.1 112.4 166.6 115.0Z" fill="#b6bbd9" stroke="#8086b5" stroke-width="0.6"/>
<path d="M176.3 118.2 176.6 115.1 171.7 112.6 168.0 115.2 167.6 119.2 169.2 120.4Z" fill="#b5bad9" stroke="#8086b5" stroke-width="0.6"/>
<path d="M179.5 121.7 187.4 118.7 185.0 114.4 181.3 113.4 178.4 115.3 178.1 118.4Z" fill="#9ca4cd" stroke="#8086b5" stroke-width="0.6"/>
<path d="M194.3 112.0 192.8 118.8 190.3 119.2 188.7 118.0 186.3 113.7 190.8 109.6Z" fill="#a4aad0" stroke="#8086b5" stroke-width="0.6"/>
<path d="M198.1 111.6 200.3 113.0 197.7 120.8 197.5 120.9 193.8 119.1 195.4 112.2Z" fill="#aab0d3" stroke="#8086b5" stroke-width="0.6"/>
<path d="M198.3 121.0 203.6 121.5 205.5 118.6 204.3 113.5 204.2 113.5 200.9 113.2Z" fill="#a4abd1" stroke="#8086b5" stroke-width="0.6"/>
<path d="M212.6 117.9 213.4 111.7 213.3 111.7 205.6 113.2 206.8 118.3Z" fill="#b6bbd9" stroke="#8086b5" stroke-width="0.6"/>
<path d="M214.7 119.0 223.0 117.5 223.2 117.4 221.2 113.3 214.6 111.9 213.9 118.1Z" fill="#a1a8cf" stroke="#8086b5" stroke-width="0.6"/>
<path d="M234.7 116.7 230.7 114.3 225.6 117.8 228.5 121.5 233.7 121.1Z" fill="#9aa2cc" stroke="#8086b5" stroke-width="0.6"/>
<path d="M235.8 116.9 239.6 115.0 242.5 121.0 236.2 122.6 234.8 121.3Z" fill="#a9b0d3" stroke="#8086b5" stroke-width="0.6"/>
<path d="M247.1 120.2 249.3 115.1 247.5 112.4 241.1 113.3 240.7 114.5 243.6 120.5 245.5 121.6Z" fill="#9ca4cd" stroke="#8086b5" stroke-width="0.6"/>
<path d="M173.3 127.5 171.0 126.3 169.4 121.3 176.6 119.0 178.0 122.4 178.0 124.2Z" fill="#9ba3cc" stroke="#8086b5" stroke-width="0.6"/>
<path d="M179.8 124.3 179.8 122.4 187.6 119.4 189.2 120.6 186.8 127.0 184.5 127.6Z" fill="#afb4d6" stroke="#8086b5" stroke-width="0.6"/>
<path d="M205.0 122.4 206.9 119.4 212.7 119.1 213.5 120.1 213.8 126.2 211.3 127.8 205.7 123.8Z" fill="#afb4d6" stroke="#8086b5" stroke-width="0.6"/>
<path d="M215.2 126.1 218.3 126.6 223.2 118.5 214.9 120.0Z" fill="#acb2d5" stroke="#8086b5" stroke-width="0.6"/>
<clipPath id="ie2"><polygon points="218.4,86.1 216.8,88.5 215.0,90.4 213.3,92.1 211.7,93.8 209.9,95.4 207.9,96.5 205.7,97.1 203.4,97.1 201.2,96.9 199.0,96.5 196.8,95.9 194.6,94.9 192.9,93.2 191.7,90.9 191.2,88.5 190.8,86.1 190.5,83.7 190.1,81.1 190.0,78.4 190.7,75.6 192.2,73.3 194.5,71.8 197.0,71.0 199.4,70.7 201.6,70.4 203.8,70.3 205.9,70.5 207.9,71.1 209.8,72.2 211.6,73.4 213.5,74.6 215.5,76.1 217.5,78.0 218.8,80.4 219.2,83.3"/></clipPath>
<polygon points="218.4,86.1 216.8,88.5 215.0,90.4 213.3,92.1 211.7,93.8 209.9,95.4 207.9,96.5 205.7,97.1 203.4,97.1 201.2,96.9 199.0,96.5 196.8,95.9 194.6,94.9 192.9,93.2 191.7,90.9 191.2,88.5 190.8,86.1 190.5,83.7 190.1,81.1 190.0,78.4 190.7,75.6 192.2,73.3 194.5,71.8 197.0,71.0 199.4,70.7 201.6,70.4 203.8,70.3 205.9,70.5 207.9,71.1 209.8,72.2 211.6,73.4 213.5,74.6 215.5,76.1 217.5,78.0 218.8,80.4 219.2,83.3" fill="none" stroke="#ebe2da" stroke-width="0.9"/>
<g clip-path="url(#ie2)"><polygon points="218.4,86.1 216.8,88.5 215.0,90.4 213.3,92.1 211.7,93.8 209.9,95.4 207.9,96.5 205.7,97.1 203.4,97.1 201.2,96.9 199.0,96.5 196.8,95.9 194.6,94.9 192.9,93.2 191.7,90.9 191.2,88.5 190.8,86.1 190.5,83.7 190.1,81.1 190.0,78.4 190.7,75.6 192.2,73.3 194.5,71.8 197.0,71.0 199.4,70.7 201.6,70.4 203.8,70.3 205.9,70.5 207.9,71.1 209.8,72.2 211.6,73.4 213.5,74.6 215.5,76.1 217.5,78.0 218.8,80.4 219.2,83.3" fill="#b27a7e"/><circle cx="202.7" cy="77.9" r="1.6" fill="#622328"/><circle cx="201.5" cy="92.2" r="1.3" fill="#712b30"/><circle cx="210.7" cy="85.5" r="1.4" fill="#5e2126"/><circle cx="209.3" cy="73.0" r="2.2" fill="#5c1f25"/><circle cx="206.7" cy="91.6" r="1.7" fill="#7c3236"/><circle cx="209.9" cy="71.9" r="1.1" fill="#571d23"/><circle cx="198.8" cy="92.0" r="1.1" fill="#66252a"/><circle cx="212.3" cy="93.2" r="1.4" fill="#65242a"/><circle cx="209.3" cy="95.4" r="1.2" fill="#6a272d"/><circle cx="205.0" cy="91.3" r="2.3" fill="#772f33"/><circle cx="202.9" cy="74.3" r="2.3" fill="#823539"/><circle cx="198.9" cy="77.7" r="1.2" fill="#6f2a2f"/><circle cx="191.1" cy="84.6" r="2.3" fill="#7c3136"/><circle cx="204.3" cy="97.8" r="1.8" fill="#581d23"/><circle cx="207.0" cy="97.1" r="2.1" fill="#782f34"/><circle cx="201.4" cy="79.6" r="2.2" fill="#642429"/><circle cx="205.0" cy="72.7" r="1.7" fill="#6e2a2f"/><circle cx="214.4" cy="77.0" r="1.6" fill="#7d3236"/><circle cx="207.4" cy="91.6" r="1.5" fill="#581d23"/><circle cx="200.5" cy="85.9" r="2.3" fill="#7c3136"/><circle cx="198.7" cy="84.2" r="1.4" fill="#7a3035"/><circle cx="202.1" cy="89.2" r="1.6" fill="#712b30"/><circle cx="209.7" cy="90.2" r="1.8" fill="#782f34"/><circle cx="192.5" cy="91.4" r="1.4" fill="#793034"/><circle cx="214.9" cy="90.1" r="1.8" fill="#5e2126"/><circle cx="208.6" cy="71.0" r="1.3" fill="#7f3337"/><circle cx="211.9" cy="81.2" r="2.0" fill="#772f33"/><circle cx="195.5" cy="79.6" r="1.5" fill="#7c3136"/><circle cx="206.3" cy="69.8" r="1.2" fill="#702b30"/><circle cx="201.6" cy="76.2" r="1.1" fill="#7f3337"/><circle cx="205.8" cy="71.4" r="1.5" fill="#6a272d"/><circle cx="205.7" cy="78.1" r="2.0" fill="#772e33"/><circle cx="190.8" cy="86.8" r="1.9" fill="#7f3337"/><circle cx="206.7" cy="92.6" r="1.5" fill="#6d292e"/><circle cx="203.9" cy="69.2" r="2.2" fill="#7d3236"/><circle cx="215.1" cy="81.6" r="2.0" fill="#5a1e24"/><circle cx="195.4" cy="89.3" r="1.2" fill="#7f3338"/><circle cx="198.5" cy="89.2" r="1.2" fill="#6f2a2f"/><circle cx="196.8" cy="95.5" r="1.9" fill="#6a272c"/><circle cx="206.2" cy="87.8" r="1.9" fill="#722c31"/><circle cx="193.7" cy="83.8" r="1.6" fill="#803438"/><circle cx="210.4" cy="86.2" r="2.1" fill="#65242a"/><circle cx="199.0" cy="92.2" r="1.5" fill="#793034"/><circle cx="212.1" cy="89.8" r="2.0" fill="#66252a"/><circle cx="202.5" cy="74.4" r="1.8" fill="#5b1f24"/><circle cx="199.3" cy="93.6" r="1.8" fill="#6b282d"/><circle cx="213.5" cy="86.0" r="2.1" fill="#622329"/><circle cx="206.4" cy="94.7" r="1.4" fill="#5b1f24"/><circle cx="213.3" cy="88.7" r="2.2" fill="#793035"/><circle cx="192.9" cy="76.3" r="2.1" fill="#622328"/><circle cx="193.9" cy="93.2" r="2.2" fill="#732d31"/><circle cx="197.8" cy="76.9" r="1.2" fill="#65252a"/><circle cx="204.9" cy="95.1" r="1.9" fill="#732c31"/><circle cx="206.8" cy="81.3" r="1.3" fill="#5b1f24"/><circle cx="194.8" cy="93.6" r="1.7" fill="#7b3135"/><circle cx="207.1" cy="91.9" r="2.1" fill="#632429"/><circle cx="202.3" cy="72.1" r="1.9" fill="#571d23"/><circle cx="195.1" cy="94.5" r="1.6" fill="#632329"/><circle cx="214.2" cy="83.5" r="1.9" fill="#6c292e"/><circle cx="197.3" cy="76.8" r="1.4" fill="#632429"/><circle cx="205.2" cy="95.6" r="1.2" fill="#5b1f25"/><circle cx="190.3" cy="82.9" r="2.0" fill="#752d32"/><circle cx="203.2" cy="76.0" r="1.7" fill="#571c22"/><circle cx="199.2" cy="82.9" r="1.2" fill="#5c1f25"/><circle cx="198.2" cy="92.0" r="1.4" fill="#5a1e24"/><circle cx="213.1" cy="93.2" r="2.3" fill="#803438"/><circle cx="208.1" cy="89.1" r="2.2" fill="#571c22"/><circle cx="210.1" cy="93.0" r="2.3" fill="#813438"/><circle cx="208.2" cy="76.2" r="2.0" fill="#813438"/><circle cx="214.3" cy="75.1" r="2.0" fill="#7a3035"/><circle cx="200.9" cy="74.1" r="1.8" fill="#813438"/><circle cx="199.7" cy="81.5" r="1.6" fill="#7e3337"/><circle cx="201.1" cy="73.4" r="2.2" fill="#793034"/><circle cx="205.4" cy="95.6" r="2.1" fill="#561c22"/><polygon points="218.4,86.1 216.8,88.5 215.0,90.4 213.3,92.1 211.7,93.8 209.9,95.4 207.9,96.5 205.7,97.1 203.4,97.1 201.2,96.9 199.0,96.5 196.8,95.9 194.6,94.9 192.9,93.2 191.7,90.9 191.2,88.5 190.8,86.1 190.5,83.7 190.1,81.1 190.0,78.4 190.7,75.6 192.2,73.3 194.5,71.8 197.0,71.0 199.4,70.7 201.6,70.4 203.8,70.3 205.9,70.5 207.9,71.1 209.8,72.2 211.6,73.4 213.5,74.6 215.5,76.1 217.5,78.0 218.8,80.4 219.2,83.3" fill="none" stroke="#6d292e" stroke-width="2.0" stroke-opacity="0.6"/></g>
<path d="M170 104 L188 101 L205 100 L242 89" stroke="#e8dcd0" stroke-width="2.6" fill="none" stroke-linejoin="round"/>
<path d="M172 72 L186 86" stroke="#e8dcd0" stroke-width="1.6" fill="none" stroke-linejoin="round"/>
<path d="M230 101 L242 97 L242 116 L226 116 Z" stroke="#ece6e0" stroke-width="2" fill="#ece6e0" stroke-linejoin="round"/>
<path d="M201.4 110.6H228.9M201.4 108.6V112.6M228.9 108.6V112.6" stroke="#111" stroke-width="1.6" fill="none"/>
</g></g>
<rect x="170.8" y="60" width="71.5" height="55.6" fill="none" stroke="#555" stroke-width="1"/>
<g clip-path="url(#c3)"><g filter="url(#bl)">
<rect x="245.4" y="60" width="70.4" height="55.6" fill="#ebe8ee"/>
<path d="M263.9 48.5 264.8 48.3 267.7 52.1 267.6 55.0 265.4 57.5 260.2 55.5 259.6 54.1Z" fill="#a2a9d5" stroke="#8187ba" stroke-width="0.6"/>
<path d="M278.1 54.6 276.2 50.2 275.3 49.7 269.6 52.1 269.5 55.0 273.7 56.7Z" fill="#b2b7dc" stroke="#8187ba" stroke-width="0.6"/>
<path d="M241.7 58.5 241.7 56.2 245.7 54.3 249.0 56.1 249.6 59.3 244.6 61.7Z" fill="#bcc0e0" stroke="#8187ba" stroke-width="0.6"/>
<path d="M250.7 55.8 251.3 58.9 252.9 60.2 256.5 58.9 258.8 56.0 258.3 54.6 254.3 52.1Z" fill="#b3b8dc" stroke="#8187ba" stroke-width="0.6"/>
<path d="M257.3 59.6 261.4 63.8 264.9 59.4 264.9 58.8 259.7 56.8Z" fill="#9da5d2" stroke="#8187ba" stroke-width="0.6"/>
<path d="M273.2 57.9 269.1 56.2 266.8 58.8 266.8 59.4 269.6 62.9 274.1 61.5Z" fill="#9da5d2" stroke="#8187ba" stroke-width="0.6"/>
<path d="M278.7 60.8 281.3 56.9 278.5 55.6 274.2 57.6 275.0 61.2 275.6 61.8 276.7 61.9Z" fill="#a3aad5" stroke="#8187ba" stroke-width="0.6"/>
<path d="M290.6 62.1 291.3 55.6 285.8 54.3 283.4 56.6 285.5 59.8 289.3 62.0Z" fill="#b1b7db" stroke="#8187ba" stroke-width="0.6"/>
<path d="M292.6 62.9 293.6 63.3 293.9 63.3 298.3 61.5 297.1 54.4 293.9 54.7 292.4 55.7 291.7 62.2Z" fill="#bbbfdf" stroke="#8187ba" stroke-width="0.6"/>
<path d="M298.3 54.2 299.5 61.4 301.2 61.9 306.0 59.2 305.3 54.5 300.3 52.3Z" fill="#a0a7d4" stroke="#8187ba" stroke-width="0.6"/>
<path d="M307.6 59.0 307.0 54.3 307.1 54.2 315.5 53.3 316.3 54.5 312.2 59.2 309.7 60.2Z" fill="#b1b7db" stroke="#8187ba" stroke-width="0.6"/>
<path d="M317.1 55.2 319.9 56.7 319.9 59.0 317.3 63.2 313.0 59.9Z" fill="#b2b7db" stroke="#8187ba" stroke-width="0.6"/>
<path d="M237.3 61.8 240.9 59.3 243.8 62.5 242.9 65.8 241.2 67.0 239.7 66.7Z" fill="#9da5d2" stroke="#8187ba" stroke-width="0.6"/>
<path d="M245.2 62.9 250.1 60.4 251.7 61.7 252.5 65.6 250.0 68.4 244.3 66.2Z" fill="#b9bddf" stroke="#8187ba" stroke-width="0.6"/>
<path d="M254.1 65.3 257.9 66.6 260.8 64.7 260.9 64.3 256.9 60.1 253.3 61.4Z" fill="#a6add6" stroke="#8187ba" stroke-width="0.6"/>
<path d="M266.6 68.7 268.8 65.5 268.6 63.7 265.9 60.2 262.3 64.6 262.2 65.0 266.3 68.8Z" fill="#a8aed7" stroke="#8187ba" stroke-width="0.6"/>
<path d="M274.1 65.3 274.9 62.6 274.3 62.1 269.8 63.6 270.0 65.4 273.0 66.4 273.5 66.4Z" fill="#b5badd" stroke="#8187ba" stroke-width="0.6"/>
<path d="M280.9 63.3 283.0 62.8 284.3 60.6 282.2 57.4 282.1 57.4 279.5 61.3Z" fill="#adb3da" stroke="#8187ba" stroke-width="0.6"/>
<path d="M297.6 69.2 294.5 64.8 298.9 63.0 300.6 63.6 302.1 68.1 300.3 70.6Z" fill="#b0b6db" stroke="#8187ba" stroke-width="0.6"/>
<path d="M303.4 67.7 309.5 68.7 310.2 68.0 308.8 61.7 306.7 60.4 301.9 63.2Z" fill="#9ea6d3" stroke="#8187ba" stroke-width="0.6"/>
<path d="M310.2 61.4 311.5 67.7 316.7 67.4 316.9 63.6 312.7 60.4Z" fill="#b0b5db" stroke="#8187ba" stroke-width="0.6"/>
<path d="M318.1 63.7 317.9 67.5 318.4 67.8 323.6 67.2 324.6 64.9 320.7 59.5Z" fill="#a1a8d4" stroke="#8187ba" stroke-width="0.6"/>
<path d="M239.4 68.3 241.0 68.6 241.8 74.0 238.7 77.0 234.2 73.9 234.8 70.2Z" fill="#b6bbde" stroke="#8187ba" stroke-width="0.6"/>
<path d="M243.9 67.3 249.6 69.5 249.8 73.6 247.8 74.8 243.1 73.8 242.2 68.4Z" fill="#b5badd" stroke="#8187ba" stroke-width="0.6"/>
<path d="M253.6 66.6 257.4 67.9 258.2 72.7 253.3 74.3 251.4 73.5 251.1 69.4Z" fill="#b1b6db" stroke="#8187ba" stroke-width="0.6"/>
<path d="M265.6 69.6 261.5 65.8 258.6 67.7 259.3 72.5 260.7 73.3 263.1 72.7Z" fill="#b1b6db" stroke="#8187ba" stroke-width="0.6"/>
<path d="M301.3 71.4 303.2 68.9 309.3 69.9 309.1 71.3 304.0 76.8 301.8 74.4 301.2 72.5Z" fill="#bbbfe0" stroke="#8187ba" stroke-width="0.6"/>
<path d="M311.6 69.5 316.8 69.2 317.3 69.5 318.0 75.4 317.9 75.6 312.3 74.5 310.8 71.5 311.0 70.2Z" fill="#b7bbde" stroke="#8187ba" stroke-width="0.6"/>
<path d="M318.6 69.4 319.3 75.2 325.4 74.0 324.5 69.7 323.8 68.7Z" fill="#b3b8dc" stroke="#8187ba" stroke-width="0.6"/>
<path d="M239.7 78.0 239.9 81.0 242.9 83.1 246.7 82.0 247.6 76.1 242.8 75.1Z" fill="#a8aed7" stroke="#8187ba" stroke-width="0.6"/>
<path d="M252.6 75.9 254.1 80.0 250.2 83.4 247.8 82.2 248.7 76.3 250.7 75.1Z" fill="#9ca4d2" stroke="#8187ba" stroke-width="0.6"/>
<path d="M259.9 81.0 258.9 81.3 255.1 79.6 253.7 75.5 258.6 73.9 260.0 74.7Z" fill="#bcc0e0" stroke="#8187ba" stroke-width="0.6"/>
<path d="M265.1 76.0 263.4 74.1 261.0 74.7 260.9 81.0 262.2 81.4 265.0 79.6 265.4 79.0 265.7 77.5Z" fill="#9ea6d3" stroke="#8187ba" stroke-width="0.6"/>
<path d="M304.8 77.5 309.9 72.0 311.3 75.0 311.0 79.1 305.3 80.2Z" fill="#9da5d3" stroke="#8187ba" stroke-width="0.6"/>
<path d="M312.2 75.1 317.8 76.1 317.7 80.6 314.5 80.6 311.9 79.2Z" fill="#afb5da" stroke="#8187ba" stroke-width="0.6"/>
<path d="M319.3 76.2 319.2 80.6 320.7 82.2 329.1 78.5 325.5 74.7 319.4 75.9Z" fill="#bcc0e0" stroke="#8187ba" stroke-width="0.6"/>
<path d="M236.5 91.7 236.8 91.7 241.8 85.7 241.8 84.6 238.9 82.5 234.9 84.9 234.4 87.8Z" fill="#aab0d8" stroke="#8187ba" stroke-width="0.6"/>
<path d="M251.4 88.4 249.4 84.8 247.1 83.5 243.3 84.6 243.3 85.7 245.6 90.7Z" fill="#a3aad5" stroke="#8187ba" stroke-width="0.6"/>
<path d="M252.9 87.9 256.0 87.2 258.4 82.4 254.6 80.6 250.7 84.1 252.6 87.7Z" fill="#9da5d2" stroke="#8187ba" stroke-width="0.6"/>
<path d="M263.8 85.7 261.7 82.9 260.5 82.5 259.5 82.9 257.0 87.7 260.3 90.1 263.4 88.6 263.9 86.2Z" fill="#a1a9d4" stroke="#8187ba" stroke-width="0.6"/>
<path d="M299.0 83.1 298.5 84.8 300.3 90.4 305.0 87.3 303.7 82.1 299.2 83.0Z" fill="#a8aed7" stroke="#8187ba" stroke-width="0.6"/>
<path d="M306.8 86.8 307.2 87.0 310.6 86.6 313.9 81.7 311.3 80.3 305.5 81.4 305.5 81.6Z" fill="#a7aed7" stroke="#8187ba" stroke-width="0.6"/>
<path d="M311.2 87.0 316.7 89.8 319.3 87.7 319.2 83.7 317.7 82.2 314.5 82.1Z" fill="#a5acd6" stroke="#8187ba" stroke-width="0.6"/>
<path d="M244.7 91.1 242.4 86.2 237.4 92.2 243.6 93.9Z" fill="#b8bdde" stroke="#8187ba" stroke-width="0.6"/>
<path d="M250.3 97.2 245.5 95.7 244.9 94.4 245.9 91.6 251.7 89.3 252.0 89.4 252.3 95.8Z" fill="#bcc0e0" stroke="#8187ba" stroke-width="0.6"/>
<path d="M259.6 91.1 256.3 88.7 253.3 89.4 253.5 95.8 257.8 96.4 259.4 95.1Z" fill="#bbbfe0" stroke="#8187ba" stroke-width="0.6"/>
<path d="M263.9 89.6 266.5 91.8 266.7 96.5 266.6 96.5 260.7 95.2 260.8 91.2Z" fill="#a2a9d5" stroke="#8187ba" stroke-width="0.6"/>
<path d="M297.7 92.8 294.8 93.7 293.3 95.6 293.1 96.5 296.5 98.7 299.4 95.5 299.0 92.6 298.8 92.6Z" fill="#b2b8dc" stroke="#8187ba" stroke-width="0.6"/>
<path d="M305.8 88.5 306.2 88.7 308.5 94.5 302.9 96.1 301.0 95.3 300.6 92.4 300.8 91.8 301.0 91.6Z" fill="#a1a9d4" stroke="#8187ba" stroke-width="0.6"/>
<path d="M307.4 88.3 309.6 94.0 311.2 95.1 315.1 93.6 316.3 90.6 310.7 87.8Z" fill="#abb1d8" stroke="#8187ba" stroke-width="0.6"/>
<path d="M318.0 91.3 320.6 89.1 321.8 89.9 324.1 95.3 321.2 99.7 316.7 94.3Z" fill="#acb2d9" stroke="#8187ba" stroke-width="0.6"/>
<path d="M243.9 96.5 240.3 102.3 237.3 102.6 236.0 101.5 234.1 97.3 236.8 93.4 237.0 93.4 243.3 95.1Z" fill="#a6add6" stroke="#8187ba" stroke-width="0.6"/>
<path d="M249.9 98.7 250.1 102.5 241.6 103.1 241.4 103.0 245.1 97.2Z" fill="#b5badd" stroke="#8187ba" stroke-width="0.6"/>
<path d="M251.4 98.6 251.6 102.4 252.8 105.6 258.6 103.0 257.6 97.9 253.3 97.2Z" fill="#a3aad5" stroke="#8187ba" stroke-width="0.6"/>
<path d="M260.4 96.3 258.8 97.6 259.8 102.8 261.9 103.8 265.8 100.3 266.4 97.7Z" fill="#b6badd" stroke="#8187ba" stroke-width="0.6"/>
<path d="M267.8 98.0 267.2 100.6 270.1 104.3 272.9 103.3 272.6 99.4 271.5 98.5 268.4 97.9 267.8 98.0Z" fill="#b5b9dd" stroke="#8187ba" stroke-width="0.6"/>
<path d="M276.9 99.1 273.4 99.4 273.7 103.2 276.6 104.8 279.8 103.1 278.5 100.8 277.4 99.4Z" fill="#b0b6db" stroke="#8187ba" stroke-width="0.6"/>
<path d="M286.6 98.9 287.2 100.3 286.9 102.0 284.2 103.7 282.4 102.9 283.0 99.2 283.8 98.2Z" fill="#9ea6d3" stroke="#8187ba" stroke-width="0.6"/>
<path d="M291.8 97.4 288.4 100.5 288.1 102.2 294.0 103.7 295.7 102.7 295.9 99.6 292.5 97.3Z" fill="#a0a7d4" stroke="#8187ba" stroke-width="0.6"/>
<path d="M300.5 96.5 297.6 99.7 297.4 102.8 298.3 103.4 304.9 102.1 302.4 97.3Z" fill="#b6bbdd" stroke="#8187ba" stroke-width="0.6"/>
<path d="M308.7 95.3 303.1 96.9 305.6 101.7 307.9 102.8 309.5 101.7 310.3 96.4Z" fill="#bbbfdf" stroke="#8187ba" stroke-width="0.6"/>
<path d="M315.7 95.1 320.1 100.6 320.2 101.0 318.7 102.7 316.6 103.7 311.0 101.9 311.9 96.7Z" fill="#a4abd5" stroke="#8187ba" stroke-width="0.6"/>
<path d="M241.8 113.2 236.3 110.5 237.5 104.7 240.5 104.3 240.7 104.5 244.7 109.0Z" fill="#b1b7db" stroke="#8187ba" stroke-width="0.6"/>
<path d="M250.5 108.1 250.8 107.7 251.3 106.1 250.1 103.0 241.7 103.6 245.7 108.2Z" fill="#b4b9dd" stroke="#8187ba" stroke-width="0.6"/>
<path d="M252.8 108.3 253.3 106.7 259.1 104.2 261.2 105.2 262.7 109.3 261.9 110.6 259.3 111.4Z" fill="#b8bcde" stroke="#8187ba" stroke-width="0.6"/>
<path d="M264.2 108.7 262.6 104.7 266.6 101.2 269.4 104.8 268.2 108.4Z" fill="#a0a8d4" stroke="#8187ba" stroke-width="0.6"/>
<path d="M273.2 104.2 270.4 105.1 269.2 108.7 272.8 111.4 275.1 109.0 276.0 105.7Z" fill="#a3aad5" stroke="#8187ba" stroke-width="0.6"/>
<path d="M282.5 111.5 276.2 109.4 277.2 106.1 280.4 104.4 281.6 104.6 283.4 105.5 284.1 109.8Z" fill="#9ea6d3" stroke="#8187ba" stroke-width="0.6"/>
<path d="M285.9 109.5 285.1 105.1 287.8 103.4 293.6 104.9 292.0 110.4 290.8 111.5Z" fill="#b2b7dc" stroke="#8187ba" stroke-width="0.6"/>
<path d="M299.7 111.4 300.9 110.5 297.5 104.8 296.5 104.3 294.8 105.2 293.1 110.7Z" fill="#a7aed7" stroke="#8187ba" stroke-width="0.6"/>
<path d="M301.9 109.9 298.5 104.2 305.0 103.0 307.3 104.0 306.5 107.9 304.5 110.1Z" fill="#b2b8dc" stroke="#8187ba" stroke-width="0.6"/>
<path d="M316.2 105.0 310.6 103.2 309.0 104.4 308.3 108.2 313.6 110.5 315.4 109.2Z" fill="#a1a9d4" stroke="#8187ba" stroke-width="0.6"/>
<path d="M322.0 109.8 319.4 104.2 317.4 105.2 316.6 109.4 320.0 111.6Z" fill="#b0b6db" stroke="#8187ba" stroke-width="0.6"/>
<path d="M334.2 109.2 330.0 105.6 321.6 102.3 320.0 103.9 322.6 109.6Z" fill="#a5acd6" stroke="#8187ba" stroke-width="0.6"/>
<path d="M241.4 114.9 237.6 118.8 234.5 114.4 235.2 112.0 235.7 111.6 241.3 114.4Z" fill="#aab0d8" stroke="#8187ba" stroke-width="0.6"/>
<path d="M243.0 114.5 245.9 117.4 250.3 116.2 250.5 109.6 245.7 109.7 242.8 113.9Z" fill="#afb5da" stroke="#8187ba" stroke-width="0.6"/>
<path d="M252.0 109.6 252.3 109.3 258.9 112.3 257.0 115.9 254.6 118.5 251.8 116.3Z" fill="#babfdf" stroke="#8187ba" stroke-width="0.6"/>
<path d="M257.9 116.4 263.9 117.8 264.3 117.4 262.3 112.0 259.7 112.8Z" fill="#a2a9d5" stroke="#8187ba" stroke-width="0.6"/>
<path d="M271.9 112.6 268.3 109.9 264.3 110.3 263.5 111.6 265.4 116.9 269.2 117.1 272.1 114.1Z" fill="#b5badd" stroke="#8187ba" stroke-width="0.6"/>
<path d="M282.3 112.1 276.0 110.0 273.8 112.3 274.0 113.9 277.3 116.1 280.9 115.6Z" fill="#9ea5d3" stroke="#8187ba" stroke-width="0.6"/>
<path d="M283.6 112.6 282.3 116.1 284.8 119.3 286.3 119.3 290.4 114.4 290.2 112.9 285.3 110.9Z" fill="#a2a9d4" stroke="#8187ba" stroke-width="0.6"/>
<path d="M292.1 114.1 295.6 117.7 297.5 117.4 299.6 112.2 293.1 111.5 291.8 112.7Z" fill="#b2b8dc" stroke="#8187ba" stroke-width="0.6"/>
<path d="M298.4 117.8 301.7 119.9 303.2 119.5 306.3 117.1 304.3 111.9 301.8 111.7 300.5 112.6Z" fill="#9fa6d3" stroke="#8187ba" stroke-width="0.6"/>
<path d="M312.8 116.8 313.2 111.4 307.9 109.1 305.8 111.3 307.8 116.6 310.0 117.4Z" fill="#b7bcde" stroke="#8187ba" stroke-width="0.6"/>
<path d="M319.6 112.3 316.1 110.2 314.3 111.5 313.9 116.9 316.4 118.0 319.8 116.4Z" fill="#b8bdde" stroke="#8187ba" stroke-width="0.6"/>
<path d="M334.7 110.4 324.7 117.2 320.9 116.3 320.7 112.3 322.6 110.5 334.3 110.1Z" fill="#a3aad5" stroke="#8187ba" stroke-width="0.6"/>
<path d="M242.0 115.5 238.2 119.3 237.7 122.8 242.4 123.5 243.8 121.9 244.9 118.3Z" fill="#b3b8dc" stroke="#8187ba" stroke-width="0.6"/>
<path d="M246.3 118.8 245.2 122.3 251.7 124.2 253.6 120.1 253.5 119.9 250.7 117.6Z" fill="#b1b6db" stroke="#8187ba" stroke-width="0.6"/>
<path d="M257.8 116.7 263.8 118.1 262.4 120.9 260.5 121.9 255.5 119.5 255.4 119.2Z" fill="#bbbfe0" stroke="#8187ba" stroke-width="0.6"/>
<path d="M269.1 118.4 270.6 123.4 268.4 124.9 263.6 121.5 265.0 118.7 265.4 118.3Z" fill="#acb2d9" stroke="#8187ba" stroke-width="0.6"/>
<path d="M273.2 115.2 276.5 117.3 275.7 122.0 273.5 123.5 271.7 123.1 270.2 118.1Z" fill="#a8aed7" stroke="#8187ba" stroke-width="0.6"/>
<path d="M283.6 120.2 281.6 123.8 276.7 122.2 277.5 117.5 281.1 117.0Z" fill="#b8bdde" stroke="#8187ba" stroke-width="0.6"/>
<path d="M291.2 115.0 294.7 118.6 292.1 123.6 291.6 123.6 287.1 120.0Z" fill="#a5abd6" stroke="#8187ba" stroke-width="0.6"/>
<path d="M295.8 119.2 293.2 124.1 298.4 128.7 300.9 121.0 297.7 118.9Z" fill="#b9bedf" stroke="#8187ba" stroke-width="0.6"/>
<path d="M309.2 124.7 307.0 125.9 304.1 120.7 307.2 118.3 309.5 119.1Z" fill="#a8aed7" stroke="#8187ba" stroke-width="0.6"/>
<path d="M314.8 126.9 316.0 122.5 315.7 119.7 313.2 118.6 310.4 119.1 310.1 124.7Z" fill="#a9afd8" stroke="#8187ba" stroke-width="0.6"/>
<path d="M324.3 118.8 324.6 122.7 323.8 124.5 317.5 122.4 317.2 119.5 320.6 117.9Z" fill="#b7bbde" stroke="#8187ba" stroke-width="0.6"/>
<clipPath id="ie3"><polygon points="297.9,80.8 297.4,83.6 296.5,86.1 295.1,88.4 293.4,90.4 291.7,92.4 290.1,94.6 288.1,96.9 285.6,99.0 282.5,100.0 279.3,99.7 276.5,98.1 274.2,95.9 272.2,93.7 270.3,91.5 268.6,89.2 267.2,86.7 266.5,83.8 266.5,80.8 267.2,78.0 268.0,75.3 269.0,72.6 270.3,70.0 272.1,67.8 274.5,66.2 277.2,65.5 279.9,65.2 282.5,64.9 285.2,64.5 288.3,64.1 291.5,64.4 294.4,65.9 296.5,68.4 297.7,71.6 298.1,74.8 298.1,77.9"/></clipPath>
<polygon points="297.9,80.8 297.4,83.6 296.5,86.1 295.1,88.4 293.4,90.4 291.7,92.4 290.1,94.6 288.1,96.9 285.6,99.0 282.5,100.0 279.3,99.7 276.5,98.1 274.2,95.9 272.2,93.7 270.3,91.5 268.6,89.2 267.2,86.7 266.5,83.8 266.5,80.8 267.2,78.0 268.0,75.3 269.0,72.6 270.3,70.0 272.1,67.8 274.5,66.2 277.2,65.5 279.9,65.2 282.5,64.9 285.2,64.5 288.3,64.1 291.5,64.4 294.4,65.9 296.5,68.4 297.7,71.6 298.1,74.8 298.1,77.9" fill="none" stroke="#ebe8ee" stroke-width="0.9"/>
<g clip-path="url(#ie3)"><polygon points="297.9,80.8 297.4,83.6 296.5,86.1 295.1,88.4 293.4,90.4 291.7,92.4 290.1,94.6 288.1,96.9 285.6,99.0 282.5,100.0 279.3,99.7 276.5,98.1 274.2,95.9 272.2,93.7 270.3,91.5 268.6,89.2 267.2,86.7 266.5,83.8 266.5,80.8 267.2,78.0 268.0,75.3 269.0,72.6 270.3,70.0 272.1,67.8 274.5,66.2 277.2,65.5 279.9,65.2 282.5,64.9 285.2,64.5 288.3,64.1 291.5,64.4 294.4,65.9 296.5,68.4 297.7,71.6 298.1,74.8 298.1,77.9" fill="#b7808e"/><circle cx="278.3" cy="83.6" r="1.7" fill="#7c303e"/><circle cx="294.7" cy="69.9" r="1.9" fill="#65212f"/><circle cx="289.5" cy="71.9" r="2.3" fill="#893846"/><circle cx="287.4" cy="84.1" r="1.2" fill="#7d303e"/><circle cx="269.4" cy="81.5" r="1.5" fill="#792e3c"/><circle cx="289.5" cy="85.8" r="2.0" fill="#692331"/><circle cx="292.6" cy="90.0" r="2.3" fill="#893846"/><circle cx="292.7" cy="70.9" r="1.1" fill="#65212f"/><circle cx="271.9" cy="74.5" r="2.1" fill="#5f1d2b"/><circle cx="278.1" cy="76.2" r="2.0" fill="#621f2d"/><circle cx="268.1" cy="82.1" r="2.3" fill="#833442"/><circle cx="284.4" cy="70.9" r="1.9" fill="#772c3a"/><circle cx="269.7" cy="81.3" r="1.6" fill="#6f2735"/><circle cx="283.6" cy="66.9" r="2.3" fill="#893846"/><circle cx="284.7" cy="73.9" r="1.7" fill="#752b39"/><circle cx="286.4" cy="65.0" r="1.3" fill="#5e1c2a"/><circle cx="293.4" cy="68.5" r="1.5" fill="#7a2e3c"/><circle cx="274.5" cy="88.2" r="1.9" fill="#7e313f"/><circle cx="291.0" cy="74.4" r="1.7" fill="#732a38"/><circle cx="294.5" cy="79.7" r="2.2" fill="#8b3947"/><circle cx="296.7" cy="83.5" r="1.2" fill="#752b39"/><circle cx="278.2" cy="76.0" r="1.8" fill="#7e313f"/><circle cx="275.4" cy="91.3" r="1.6" fill="#65212f"/><circle cx="282.0" cy="97.3" r="1.9" fill="#772c3a"/><circle cx="287.6" cy="66.1" r="2.0" fill="#702836"/><circle cx="272.9" cy="78.2" r="1.2" fill="#893846"/><circle cx="291.7" cy="86.1" r="2.1" fill="#6c2533"/><circle cx="286.8" cy="78.0" r="1.3" fill="#732937"/><circle cx="272.9" cy="69.3" r="2.2" fill="#843543"/><circle cx="288.9" cy="96.4" r="1.2" fill="#732a38"/><circle cx="279.5" cy="85.2" r="1.3" fill="#8c3a48"/><circle cx="292.5" cy="78.8" r="2.3" fill="#803240"/><circle cx="295.1" cy="83.6" r="1.3" fill="#6b2432"/><circle cx="280.8" cy="72.1" r="1.5" fill="#5e1c2a"/><circle cx="278.3" cy="90.0" r="1.2" fill="#621f2d"/><circle cx="277.2" cy="84.5" r="2.2" fill="#6a2432"/><circle cx="278.4" cy="85.5" r="2.1" fill="#672230"/><circle cx="291.8" cy="85.9" r="2.2" fill="#883846"/><circle cx="270.1" cy="83.6" r="1.2" fill="#883745"/><circle cx="282.7" cy="71.4" r="2.1" fill="#65212f"/><circle cx="273.1" cy="81.9" r="1.8" fill="#6a2432"/><circle cx="273.7" cy="78.2" r="1.1" fill="#631f2d"/><circle cx="285.2" cy="69.2" r="1.7" fill="#7c303e"/><circle cx="282.2" cy="89.3" r="1.6" fill="#813341"/><circle cx="281.2" cy="68.8" r="1.8" fill="#6a2432"/><circle cx="295.0" cy="76.3" r="2.1" fill="#6f2735"/><circle cx="270.3" cy="73.9" r="1.7" fill="#813341"/><circle cx="280.5" cy="95.9" r="1.5" fill="#762b39"/><circle cx="289.3" cy="89.8" r="2.2" fill="#5f1d2b"/><circle cx="287.2" cy="92.8" r="1.9" fill="#7e313f"/><circle cx="277.1" cy="67.3" r="1.8" fill="#65212f"/><circle cx="273.4" cy="78.1" r="1.1" fill="#752b39"/><circle cx="293.9" cy="78.9" r="2.0" fill="#7b2f3d"/><circle cx="294.6" cy="83.8" r="2.3" fill="#7c303e"/><circle cx="277.9" cy="96.3" r="1.9" fill="#893846"/><circle cx="289.9" cy="69.9" r="1.7" fill="#762c3a"/><circle cx="276.1" cy="95.1" r="1.3" fill="#8c3a48"/><circle cx="276.5" cy="90.8" r="1.8" fill="#6c2533"/><circle cx="277.9" cy="76.9" r="2.1" fill="#631f2d"/><circle cx="293.1" cy="69.5" r="2.0" fill="#813341"/><circle cx="287.4" cy="93.0" r="1.2" fill="#803240"/><circle cx="284.5" cy="72.2" r="1.6" fill="#621f2d"/><circle cx="275.7" cy="68.3" r="1.2" fill="#7a2e3c"/><circle cx="288.3" cy="75.0" r="2.2" fill="#6b2432"/><circle cx="288.9" cy="81.5" r="2.0" fill="#672230"/><circle cx="289.6" cy="71.7" r="1.2" fill="#843442"/><circle cx="279.1" cy="87.5" r="1.1" fill="#6c2533"/><circle cx="271.0" cy="83.8" r="1.8" fill="#621e2c"/><circle cx="297.8" cy="81.1" r="1.6" fill="#7f3240"/><circle cx="292.6" cy="72.5" r="2.0" fill="#682331"/><circle cx="285.4" cy="93.1" r="2.3" fill="#8b3947"/><circle cx="284.0" cy="94.6" r="1.4" fill="#6f2735"/><circle cx="279.3" cy="97.4" r="1.6" fill="#732a38"/><circle cx="295.4" cy="88.9" r="1.2" fill="#843543"/><circle cx="283.1" cy="90.0" r="1.2" fill="#6e2735"/><circle cx="292.5" cy="77.8" r="1.5" fill="#803240"/><circle cx="284.3" cy="95.7" r="2.3" fill="#853644"/><circle cx="296.5" cy="84.6" r="2.0" fill="#833442"/><circle cx="276.5" cy="77.4" r="1.9" fill="#792d3b"/><circle cx="268.2" cy="82.2" r="1.3" fill="#6f2735"/><circle cx="272.1" cy="68.9" r="2.3" fill="#873745"/><circle cx="281.6" cy="92.4" r="1.7" fill="#732a38"/><circle cx="291.7" cy="86.0" r="2.2" fill="#6f2735"/><circle cx="293.7" cy="69.7" r="1.7" fill="#883846"/><circle cx="287.3" cy="80.1" r="1.8" fill="#8a3947"/><circle cx="278.7" cy="91.0" r="1.3" fill="#873644"/><circle cx="270.7" cy="75.6" r="1.8" fill="#873745"/><circle cx="270.2" cy="79.4" r="1.6" fill="#6d2634"/><circle cx="295.6" cy="78.1" r="1.7" fill="#621f2d"/><circle cx="278.9" cy="76.3" r="1.7" fill="#682230"/><circle cx="275.8" cy="86.5" r="1.4" fill="#722937"/><circle cx="289.1" cy="87.3" r="2.0" fill="#631f2d"/><circle cx="288.7" cy="71.3" r="1.4" fill="#823341"/><circle cx="275.0" cy="88.5" r="1.1" fill="#66212f"/><circle cx="293.4" cy="76.0" r="1.6" fill="#792e3c"/><circle cx="288.9" cy="85.0" r="2.1" fill="#7b2f3d"/><circle cx="276.1" cy="95.2" r="1.4" fill="#732937"/><polygon points="297.9,80.8 297.4,83.6 296.5,86.1 295.1,88.4 293.4,90.4 291.7,92.4 290.1,94.6 288.1,96.9 285.6,99.0 282.5,100.0 279.3,99.7 276.5,98.1 274.2,95.9 272.2,93.7 270.3,91.5 268.6,89.2 267.2,86.7 266.5,83.8 266.5,80.8 267.2,78.0 268.0,75.3 269.0,72.6 270.3,70.0 272.1,67.8 274.5,66.2 277.2,65.5 279.9,65.2 282.5,64.9 285.2,64.5 288.3,64.1 291.5,64.4 294.4,65.9 296.5,68.4 297.7,71.6 298.1,74.8 298.1,77.9" fill="none" stroke="#752b39" stroke-width="2.0" stroke-opacity="0.6"/></g>
<path d="M245 99 L262 100 L270 104 L300 104 L316 96" stroke="#e8e4e8" stroke-width="3" fill="none" stroke-linejoin="round"/>
<path d="M272 104 L300 104 L298 112 L276 112 Z" stroke="#ebe8ec" stroke-width="3" fill="#ebe8ec" stroke-linejoin="round"/>
<path d="M273 109.8H298M273 107.8V111.8M298 107.8V111.8" stroke="#111" stroke-width="1.6" fill="none"/>
</g></g>
<rect x="245.4" y="60" width="70.4" height="55.6" fill="none" stroke="#555" stroke-width="1"/>
<g clip-path="url(#c4)"><g filter="url(#bl)">
<rect x="318.5" y="60" width="70.3" height="55.3" fill="#dfe2f0"/>
<path d="M323.4 54.5 324.2 51.8 327.9 50.9 329.4 51.9 329.7 54.6 329.2 55.0 324.0 56.2Z" fill="#7c84c8" stroke="#6066ae" stroke-width="0.6"/>
<path d="M337.4 50.9 337.0 53.8 334.1 56.2 331.2 54.4 331.0 51.8 335.1 49.9Z" fill="#9096d0" stroke="#6066ae" stroke-width="0.6"/>
<path d="M341.0 50.3 338.7 51.1 338.3 54.0 341.6 58.0 342.4 57.7 345.0 53.6 344.6 52.0Z" fill="#757dc4" stroke="#6066ae" stroke-width="0.6"/>
<path d="M363.6 50.5 360.0 54.8 362.8 56.9 366.7 53.5 365.4 51.6Z" fill="#868dcc" stroke="#6066ae" stroke-width="0.6"/>
<path d="M389.6 51.7 391.4 50.3 395.6 52.2 395.9 53.0 390.1 56.7 388.3 54.9Z" fill="#8d93cf" stroke="#6066ae" stroke-width="0.6"/>
<path d="M316.6 54.5 322.0 55.0 322.6 56.6 322.1 59.8 319.2 60.7 316.5 59.2 315.7 55.1Z" fill="#7179c2" stroke="#6066ae" stroke-width="0.6"/>
<path d="M324.2 56.9 329.4 55.7 328.1 61.1 325.1 60.9 323.6 60.0Z" fill="#949ad2" stroke="#6066ae" stroke-width="0.6"/>
<path d="M330.6 55.5 333.4 57.2 334.3 61.0 329.8 61.9 328.8 61.3 330.2 55.9Z" fill="#9198d1" stroke="#6066ae" stroke-width="0.6"/>
<path d="M340.8 58.6 338.0 62.1 335.6 60.7 334.7 56.9 337.6 54.5Z" fill="#7b82c7" stroke="#6066ae" stroke-width="0.6"/>
<path d="M343.6 58.5 345.1 59.5 348.6 60.6 350.3 59.8 348.0 55.4 346.3 54.4Z" fill="#737ac3" stroke="#6066ae" stroke-width="0.6"/>
<path d="M352.2 59.4 352.0 59.4 351.6 59.4 351.2 59.4 348.9 54.9 354.6 53.6 356.2 55.3 354.8 58.4Z" fill="#737bc3" stroke="#6066ae" stroke-width="0.6"/>
<path d="M358.6 61.7 357.5 60.7 356.4 59.1 357.8 56.1 359.3 55.9 362.1 57.9 363.1 59.7 362.4 61.3 359.3 62.0Z" fill="#969dd3" stroke="#6066ae" stroke-width="0.6"/>
<path d="M369.8 55.5 369.0 58.8 364.3 59.0 363.2 57.3 367.1 53.9Z" fill="#727ac3" stroke="#6066ae" stroke-width="0.6"/>
<path d="M371.5 55.9 370.8 59.2 371.8 61.2 376.6 62.3 377.4 61.2 375.5 55.7 372.8 55.1Z" fill="#8b92ce" stroke="#6066ae" stroke-width="0.6"/>
<path d="M379.9 53.8 382.8 56.1 381.4 59.1 378.2 60.9 376.3 55.4Z" fill="#8a91ce" stroke="#6066ae" stroke-width="0.6"/>
<path d="M386.8 64.2 389.8 59.5 388.8 58.0 387.0 56.2 384.3 56.9 382.9 59.9Z" fill="#8d94cf" stroke="#6066ae" stroke-width="0.6"/>
<path d="M396.1 53.3 390.3 57.0 391.3 58.6 394.9 59.6 398.2 57.0Z" fill="#848bcb" stroke="#6066ae" stroke-width="0.6"/>
<path d="M315.5 60.8 311.0 63.2 311.1 66.0 311.4 66.5 315.0 67.8 317.6 66.4 318.2 62.4Z" fill="#848bcb" stroke="#6066ae" stroke-width="0.6"/>
<path d="M319.8 62.6 319.2 66.6 322.8 69.7 324.2 68.0 324.2 62.5 322.7 61.7Z" fill="#848bcb" stroke="#6066ae" stroke-width="0.6"/>
<path d="M329.0 67.0 328.9 63.3 327.9 62.7 325.0 62.5 325.0 68.0Z" fill="#9198d1" stroke="#6066ae" stroke-width="0.6"/>
<path d="M330.2 67.0 330.1 63.3 334.6 62.4 337.1 63.8 337.4 65.3 337.0 66.0 330.9 67.9Z" fill="#747cc4" stroke="#6066ae" stroke-width="0.6"/>
<path d="M344.1 65.4 345.2 63.5 344.5 60.4 343.0 59.4 342.2 59.7 339.4 63.2 339.8 64.7 341.2 65.2 343.8 65.5Z" fill="#7c83c7" stroke="#6066ae" stroke-width="0.6"/>
<path d="M345.6 63.5 344.9 60.3 348.4 61.4 347.8 62.5Z" fill="#868dcc" stroke="#6066ae" stroke-width="0.6"/>
<path d="M360.3 66.5 360.2 66.3 359.6 62.9 362.6 62.2 363.9 65.9 363.4 66.5Z" fill="#8289ca" stroke="#6066ae" stroke-width="0.6"/>
<path d="M364.3 60.3 363.6 61.8 364.9 65.5 368.4 64.9 370.0 62.1 369.1 60.1Z" fill="#8b92ce" stroke="#6066ae" stroke-width="0.6"/>
<path d="M371.4 62.8 376.2 64.0 376.5 65.0 376.0 67.5 370.8 68.3 369.7 65.7Z" fill="#8188ca" stroke="#6066ae" stroke-width="0.6"/>
<path d="M386.1 64.9 382.2 60.5 379.0 62.3 378.2 63.5 378.5 64.5 385.0 66.7 386.1 65.4Z" fill="#9ba1d5" stroke="#6066ae" stroke-width="0.6"/>
<path d="M387.8 64.9 390.9 60.2 394.4 61.2 394.7 64.8 391.9 66.5 387.8 65.3Z" fill="#7981c6" stroke="#6066ae" stroke-width="0.6"/>
<path d="M310.9 67.8 309.5 72.1 311.4 74.4 314.6 73.3 314.5 69.1Z" fill="#999fd4" stroke="#6066ae" stroke-width="0.6"/>
<path d="M315.7 69.1 318.3 67.7 321.9 70.8 322.0 71.9 318.8 74.9 315.8 73.3Z" fill="#7179c2" stroke="#6066ae" stroke-width="0.6"/>
<path d="M324.6 72.0 323.9 71.6 323.8 70.5 325.2 68.7 329.2 67.8 329.9 68.7 330.1 72.1Z" fill="#949ad2" stroke="#6066ae" stroke-width="0.6"/>
<path d="M336.2 71.2 335.5 72.2 331.8 72.5 331.4 72.0 331.1 68.6 337.3 66.7 336.9 69.2Z" fill="#757cc4" stroke="#6066ae" stroke-width="0.6"/>
<path d="M340.4 72.7 337.6 71.7 338.3 69.7 342.3 72.1Z" fill="#7d84c8" stroke="#6066ae" stroke-width="0.6"/>
<path d="M364.6 67.4 365.1 66.7 368.6 66.1 369.7 68.8 369.2 71.6 368.3 72.1 366.4 70.7 364.7 68.2 364.7 68.0Z" fill="#838aca" stroke="#6066ae" stroke-width="0.6"/>
<path d="M377.1 72.6 376.1 68.2 370.9 69.0 370.4 71.8 374.7 73.3Z" fill="#989ed4" stroke="#6066ae" stroke-width="0.6"/>
<path d="M379.1 72.5 384.3 70.4 384.7 67.6 378.2 65.4 377.6 67.9 378.7 72.3Z" fill="#767ec5" stroke="#6066ae" stroke-width="0.6"/>
<path d="M386.0 70.6 386.4 67.9 387.5 66.5 391.6 67.7 391.8 71.8 388.0 72.5Z" fill="#868dcc" stroke="#6066ae" stroke-width="0.6"/>
<path d="M395.4 66.0 400.7 70.1 394.0 72.5 392.8 71.8 392.6 67.6Z" fill="#9399d2" stroke="#6066ae" stroke-width="0.6"/>
<path d="M315.0 74.6 318.1 76.2 318.2 78.6 315.0 80.6 311.4 77.2 311.9 75.7Z" fill="#858ccc" stroke="#6066ae" stroke-width="0.6"/>
<path d="M326.4 79.2 322.1 80.3 320.1 78.5 319.9 76.1 323.1 73.1 323.8 73.4Z" fill="#9096d0" stroke="#6066ae" stroke-width="0.6"/>
<path d="M329.6 79.3 330.6 73.7 330.1 73.2 324.6 73.1 327.2 78.9 329.4 79.4Z" fill="#9ca2d6" stroke="#6066ae" stroke-width="0.6"/>
<path d="M331.0 79.5 335.0 79.9 336.9 76.3 335.6 73.6 332.0 74.0Z" fill="#939ad2" stroke="#6066ae" stroke-width="0.6"/>
<path d="M340.8 75.1 340.6 76.1 340.2 76.3 338.0 75.8 336.7 73.1 337.4 72.2 340.2 73.2Z" fill="#7b83c7" stroke="#6066ae" stroke-width="0.6"/>
<path d="M371.5 79.4 368.4 78.9 368.1 78.5 368.1 76.5 368.5 75.0 368.8 74.0 369.1 73.5 370.0 73.0 374.3 74.6 371.9 79.2Z" fill="#7e86c9" stroke="#6066ae" stroke-width="0.6"/>
<path d="M372.9 79.6 375.2 75.0 377.6 74.3 378.0 74.5 379.9 79.6 379.1 81.1Z" fill="#888fcd" stroke="#6066ae" stroke-width="0.6"/>
<path d="M381.5 79.0 379.6 73.9 384.8 71.8 386.8 73.7 386.6 77.7 385.8 78.4Z" fill="#9198d1" stroke="#6066ae" stroke-width="0.6"/>
<path d="M393.3 78.7 393.3 73.8 392.0 73.1 388.2 73.8 388.0 77.7Z" fill="#9ba1d6" stroke="#6066ae" stroke-width="0.6"/>
<path d="M318.5 88.6 320.8 86.1 321.0 81.6 318.9 79.8 315.7 81.7 315.1 83.0Z" fill="#959cd3" stroke="#6066ae" stroke-width="0.6"/>
<path d="M329.0 81.1 328.8 83.0 326.1 86.4 322.3 86.2 322.5 81.7 326.8 80.6Z" fill="#9299d2" stroke="#6066ae" stroke-width="0.6"/>
<path d="M336.2 84.4 335.5 86.8 333.6 87.9 330.4 83.1 330.6 81.3 330.8 81.1 334.8 81.5 335.8 82.4 335.8 82.5Z" fill="#8b92ce" stroke="#6066ae" stroke-width="0.6"/>
<path d="M371.2 81.0 368.1 80.5 367.0 83.9 367.2 84.3 372.1 85.9 372.3 85.5Z" fill="#8f96d0" stroke="#6066ae" stroke-width="0.6"/>
<path d="M372.2 80.8 373.3 85.3 378.7 83.2 378.9 82.7 378.9 82.0 372.7 80.5Z" fill="#969dd3" stroke="#6066ae" stroke-width="0.6"/>
<path d="M381.0 82.1 381.7 80.6 386.1 80.0 387.8 85.1 386.5 85.8 380.9 82.8Z" fill="#939ad2" stroke="#6066ae" stroke-width="0.6"/>
<path d="M387.0 79.6 387.8 78.9 393.1 79.8 393.7 80.6 392.8 83.5 391.4 85.3 388.8 84.8Z" fill="#787fc5" stroke="#6066ae" stroke-width="0.6"/>
<path d="M312.7 89.6 310.2 84.9 314.2 83.6 317.5 89.1 317.5 89.3 314.1 90.4Z" fill="#7a81c7" stroke="#6066ae" stroke-width="0.6"/>
<path d="M327.9 90.7 326.0 87.7 322.2 87.5 319.8 89.9 319.8 90.0 322.5 94.0Z" fill="#8289ca" stroke="#6066ae" stroke-width="0.6"/>
<path d="M330.4 90.5 328.9 90.0 327.0 87.1 329.7 83.6 332.8 88.4 332.1 90.1Z" fill="#9aa1d5" stroke="#6066ae" stroke-width="0.6"/>
<path d="M339.3 90.0 339.5 90.4 339.6 91.4 336.8 93.9 336.3 93.9 333.6 90.8 334.3 89.2 336.2 88.1 338.0 89.0Z" fill="#7e85c8" stroke="#6066ae" stroke-width="0.6"/>
<path d="M371.9 86.5 371.8 88.8 368.6 90.6 367.8 90.3 367.0 87.4 367.0 84.9Z" fill="#949ad2" stroke="#6066ae" stroke-width="0.6"/>
<path d="M373.6 86.1 373.4 86.5 373.3 88.8 377.5 90.9 379.2 88.9 379.0 84.0Z" fill="#7d84c8" stroke="#6066ae" stroke-width="0.6"/>
<path d="M380.6 83.4 386.2 86.4 384.5 89.0 380.6 88.8 380.4 83.9Z" fill="#8f96d0" stroke="#6066ae" stroke-width="0.6"/>
<path d="M387.2 87.1 385.5 89.7 387.1 92.8 390.6 92.4 392.1 90.1 391.1 87.0 388.4 86.4Z" fill="#969dd3" stroke="#6066ae" stroke-width="0.6"/>
<path d="M320.8 95.2 318.1 91.2 314.7 92.3 312.7 97.0 319.6 97.7 321.0 96.7Z" fill="#9ca2d6" stroke="#6066ae" stroke-width="0.6"/>
<path d="M328.9 96.4 325.0 97.7 323.3 96.4 323.0 94.9 328.4 91.5 330.0 92.0Z" fill="#8990cd" stroke="#6066ae" stroke-width="0.6"/>
<path d="M329.8 96.6 330.9 92.2 332.5 91.8 335.3 94.9 333.0 98.5Z" fill="#8a91ce" stroke="#6066ae" stroke-width="0.6"/>
<path d="M342.1 93.1 342.0 93.1 340.2 92.1 337.5 94.7 340.8 97.3 342.4 96.1 342.2 93.5Z" fill="#777fc5" stroke="#6066ae" stroke-width="0.6"/>
<path d="M358.5 96.0 358.2 93.4 358.4 93.3 362.2 95.0 361.7 97.4 358.6 96.4Z" fill="#959cd3" stroke="#6066ae" stroke-width="0.6"/>
<path d="M369.0 96.7 363.8 99.3 362.8 97.7 363.3 95.2 364.1 93.1 364.6 92.6 367.1 92.1 368.0 92.4Z" fill="#7981c6" stroke="#6066ae" stroke-width="0.6"/>
<path d="M377.3 95.9 376.8 92.2 372.7 90.2 369.5 92.0 370.5 96.4 372.6 97.7 375.3 97.1Z" fill="#767dc5" stroke="#6066ae" stroke-width="0.6"/>
<path d="M384.4 90.2 386.0 93.3 383.1 97.4 379.3 95.6 378.8 92.0 380.6 90.0Z" fill="#969cd3" stroke="#6066ae" stroke-width="0.6"/>
<path d="M390.8 93.8 392.4 98.1 391.6 98.8 384.8 99.1 384.3 98.2 387.2 94.2Z" fill="#878ecc" stroke="#6066ae" stroke-width="0.6"/>
<path d="M392.1 93.3 393.6 97.6 396.7 98.2 398.4 96.6 397.3 91.7 393.6 91.0Z" fill="#848bcb" stroke="#6066ae" stroke-width="0.6"/>
<path d="M317.3 101.8 319.5 98.4 312.7 97.7 312.3 98.0 312.1 98.6 315.0 103.6Z" fill="#7880c6" stroke="#6066ae" stroke-width="0.6"/>
<path d="M322.0 98.0 320.5 99.0 318.3 102.4 323.5 104.6 324.9 104.1 325.1 103.8 323.7 99.4Z" fill="#999fd4" stroke="#6066ae" stroke-width="0.6"/>
<path d="M329.3 97.5 325.4 98.8 326.7 103.2 332.9 102.1 332.5 99.4Z" fill="#8e95d0" stroke="#6066ae" stroke-width="0.6"/>
<path d="M334.1 99.1 334.5 101.9 335.8 102.9 340.0 101.4 340.1 98.2 336.8 95.5 336.3 95.5Z" fill="#969cd3" stroke="#6066ae" stroke-width="0.6"/>
<path d="M345.5 97.0 343.1 97.0 341.6 98.2 341.5 101.4 341.9 101.7 346.9 101.0 347.0 99.4Z" fill="#8188ca" stroke="#6066ae" stroke-width="0.6"/>
<path d="M351.7 98.3 349.5 98.4 348.3 99.5 348.2 101.0 349.6 102.5 353.6 100.9 353.7 100.7 353.1 99.8Z" fill="#858ccc" stroke="#6066ae" stroke-width="0.6"/>
<path d="M358.2 97.5 361.3 98.6 362.3 100.1 362.2 100.6 356.6 102.5 355.1 101.0 355.1 100.8 357.2 98.2Z" fill="#878dcc" stroke="#6066ae" stroke-width="0.6"/>
<path d="M371.6 99.2 370.4 103.9 365.5 104.1 364.2 100.8 364.3 100.4 369.6 97.9Z" fill="#747cc4" stroke="#6066ae" stroke-width="0.6"/>
<path d="M375.6 99.0 376.5 104.5 373.1 105.9 371.7 104.2 372.9 99.5Z" fill="#7179c2" stroke="#6066ae" stroke-width="0.6"/>
<path d="M378.4 97.6 382.2 99.3 382.7 100.1 382.7 100.5 379.7 105.0 377.3 104.3 376.4 98.8Z" fill="#8a91ce" stroke="#6066ae" stroke-width="0.6"/>
<path d="M391.6 99.8 384.8 100.1 384.8 100.4 387.4 103.9 390.6 104.6Z" fill="#8087c9" stroke="#6066ae" stroke-width="0.6"/>
<path d="M392.6 100.0 391.5 104.8 392.3 105.8 397.1 102.8 396.4 99.9 393.3 99.3Z" fill="#959bd3" stroke="#6066ae" stroke-width="0.6"/>
<path d="M318.0 108.5 323.3 105.0 318.1 102.8 315.8 104.6 315.6 106.0 316.0 107.5Z" fill="#9298d1" stroke="#6066ae" stroke-width="0.6"/>
<path d="M320.2 111.5 326.4 110.1 326.6 109.8 325.3 105.4 323.9 105.8 318.6 109.4Z" fill="#8d94cf" stroke="#6066ae" stroke-width="0.6"/>
<path d="M327.0 104.6 326.8 105.0 328.1 109.3 332.5 109.3 334.4 107.4 334.5 104.5 333.2 103.5Z" fill="#8990cd" stroke="#6066ae" stroke-width="0.6"/>
<path d="M342.9 107.7 341.1 103.2 340.6 103.0 336.4 104.5 336.3 107.4 339.3 109.6Z" fill="#7b82c7" stroke="#6066ae" stroke-width="0.6"/>
<path d="M346.6 108.4 348.3 107.3 348.5 103.6 347.0 102.1 342.1 102.8 343.9 107.3Z" fill="#8a90ce" stroke="#6066ae" stroke-width="0.6"/>
<path d="M356.2 108.7 355.7 103.6 354.1 102.1 350.1 103.7 349.9 107.3 355.1 109.3Z" fill="#8d94cf" stroke="#6066ae" stroke-width="0.6"/>
<path d="M357.5 108.6 357.0 103.4 362.5 101.5 363.8 104.8 362.6 107.6 359.6 108.8Z" fill="#7b83c7" stroke="#6066ae" stroke-width="0.6"/>
<path d="M371.9 106.9 372.0 107.8 367.0 110.9 364.4 108.3 365.6 105.5 370.5 105.3Z" fill="#848ccb" stroke="#6066ae" stroke-width="0.6"/>
<path d="M377.0 105.4 379.4 106.1 380.1 108.6 379.5 110.5 375.3 110.9 373.6 107.7 373.6 106.9Z" fill="#737bc3" stroke="#6066ae" stroke-width="0.6"/>
<path d="M383.8 101.2 380.8 105.7 381.5 108.2 385.0 107.5 386.3 104.6Z" fill="#8e94cf" stroke="#6066ae" stroke-width="0.6"/>
<path d="M390.3 105.7 387.1 105.0 385.8 107.9 389.3 111.4 391.3 108.3 391.1 106.7Z" fill="#838acb" stroke="#6066ae" stroke-width="0.6"/>
<path d="M314.5 117.1 318.7 113.1 318.7 112.6 317.1 110.5 315.0 109.5 311.9 112.5 311.7 114.6 312.0 115.8Z" fill="#7a81c6" stroke="#6066ae" stroke-width="0.6"/>
<path d="M320.5 112.8 322.5 116.9 326.9 116.1 326.6 111.0 320.4 112.4Z" fill="#8f96d0" stroke="#6066ae" stroke-width="0.6"/>
<path d="M328.2 116.0 328.7 116.3 333.1 114.6 332.6 110.5 328.1 110.6 327.9 110.9Z" fill="#939ad2" stroke="#6066ae" stroke-width="0.6"/>
<path d="M339.0 114.5 337.2 116.1 334.2 114.5 333.6 110.4 335.5 108.5 338.5 110.7Z" fill="#7a81c6" stroke="#6066ae" stroke-width="0.6"/>
<path d="M343.6 114.5 340.3 114.3 339.8 110.5 343.4 108.7 346.0 109.7 345.5 113.2Z" fill="#7078c2" stroke="#6066ae" stroke-width="0.6"/>
<path d="M354.5 110.8 349.3 108.8 347.6 110.0 347.1 113.5 350.1 115.4 353.5 114.3Z" fill="#8a91ce" stroke="#6066ae" stroke-width="0.6"/>
<path d="M357.3 110.7 356.2 111.3 355.1 114.8 357.3 118.7 358.1 118.7 360.8 115.7 359.4 110.9Z" fill="#9aa0d5" stroke="#6066ae" stroke-width="0.6"/>
<path d="M360.3 110.6 363.3 109.5 365.9 112.0 367.0 115.0 365.5 116.1 361.7 115.5Z" fill="#747cc4" stroke="#6066ae" stroke-width="0.6"/>
<path d="M372.4 108.4 367.4 111.5 368.5 114.5 371.8 115.5 374.1 111.6Z" fill="#939ad2" stroke="#6066ae" stroke-width="0.6"/>
<path d="M378.2 117.8 381.4 114.9 379.6 112.0 375.5 112.4 373.2 116.3 373.6 117.1Z" fill="#8b91ce" stroke="#6066ae" stroke-width="0.6"/>
<path d="M388.7 112.0 388.4 114.1 386.5 115.2 382.9 114.0 381.1 111.1 381.7 109.2 385.2 108.5Z" fill="#8f96d0" stroke="#6066ae" stroke-width="0.6"/>
<path d="M392.7 109.3 396.9 110.1 396.4 115.1 392.8 115.4 390.4 114.4 390.7 112.4Z" fill="#7179c2" stroke="#6066ae" stroke-width="0.6"/>
<path d="M313.9 118.3 316.0 121.0 310.9 122.9 308.6 121.5 311.4 117.0Z" fill="#8189ca" stroke="#6066ae" stroke-width="0.6"/>
<path d="M314.9 117.5 317.0 120.3 318.9 121.2 319.4 120.8 321.2 117.5 319.2 113.5Z" fill="#727ac3" stroke="#6066ae" stroke-width="0.6"/>
<path d="M322.8 118.4 321.0 121.7 326.3 123.7 329.0 121.7 327.7 117.9 327.2 117.6Z" fill="#9aa0d5" stroke="#6066ae" stroke-width="0.6"/>
<path d="M333.6 115.7 336.5 117.3 336.3 121.5 332.6 122.2 330.5 121.2 329.1 117.4Z" fill="#9ba1d6" stroke="#6066ae" stroke-width="0.6"/>
<path d="M343.5 116.0 340.2 115.8 338.4 117.4 338.2 121.6 338.9 122.3 344.3 121.2 344.5 120.8Z" fill="#8f96d0" stroke="#6066ae" stroke-width="0.6"/>
<path d="M344.5 115.8 345.5 120.6 348.9 119.5 349.4 116.5 346.4 114.5Z" fill="#8a91ce" stroke="#6066ae" stroke-width="0.6"/>
<path d="M353.9 115.5 350.5 116.6 350.0 119.7 353.4 122.6 356.1 119.4Z" fill="#9299d1" stroke="#6066ae" stroke-width="0.6"/>
<path d="M358.9 119.4 361.4 121.0 364.2 120.5 365.3 117.1 361.6 116.4Z" fill="#767ec5" stroke="#6066ae" stroke-width="0.6"/>
<path d="M371.7 118.1 371.3 117.3 367.9 116.3 366.4 117.4 365.4 120.9 366.9 122.7 371.4 120.4Z" fill="#9ba1d6" stroke="#6066ae" stroke-width="0.6"/>
<path d="M378.9 122.0 378.0 119.0 373.4 118.3 373.1 120.6 375.0 125.1 378.8 122.6Z" fill="#8188ca" stroke="#6066ae" stroke-width="0.6"/>
<path d="M385.5 119.9 380.0 121.6 379.1 118.7 382.2 115.8 385.9 117.1Z" fill="#838acb" stroke="#6066ae" stroke-width="0.6"/>
<path d="M387.5 120.1 387.8 117.3 389.7 116.1 392.1 117.1 393.2 121.3 388.3 123.4Z" fill="#7178c2" stroke="#6066ae" stroke-width="0.6"/>
<path d="M394.0 121.1 396.1 122.8 399.3 118.2 396.5 116.6 392.9 116.9Z" fill="#747bc4" stroke="#6066ae" stroke-width="0.6"/>
<clipPath id="ie4"><polygon points="365.7,80.3 364.7,83.1 363.9,85.8 363.2,88.5 362.3,91.1 360.8,93.5 358.9,95.1 356.7,96.0 354.4,96.5 352.2,96.7 349.9,96.8 347.6,96.4 345.5,95.3 343.6,93.4 342.1,91.2 340.8,88.7 339.5,86.2 338.2,83.5 337.3,80.3 337.2,76.9 338.2,73.8 340.1,71.3 342.3,69.6 344.4,68.4 346.3,67.2 348.1,66.0 350.1,64.9 352.2,64.3 354.4,64.3 356.6,64.8 358.9,65.4 361.3,66.4 363.6,68.0 365.5,70.5 366.4,73.7 366.4,77.1"/></clipPath>
<polygon points="365.7,80.3 364.7,83.1 363.9,85.8 363.2,88.5 362.3,91.1 360.8,93.5 358.9,95.1 356.7,96.0 354.4,96.5 352.2,96.7 349.9,96.8 347.6,96.4 345.5,95.3 343.6,93.4 342.1,91.2 340.8,88.7 339.5,86.2 338.2,83.5 337.3,80.3 337.2,76.9 338.2,73.8 340.1,71.3 342.3,69.6 344.4,68.4 346.3,67.2 348.1,66.0 350.1,64.9 352.2,64.3 354.4,64.3 356.6,64.8 358.9,65.4 361.3,66.4 363.6,68.0 365.5,70.5 366.4,73.7 366.4,77.1" fill="none" stroke="#dfe2f0" stroke-width="0.9"/>
<g clip-path="url(#ie4)"><polygon points="365.7,80.3 364.7,83.1 363.9,85.8 363.2,88.5 362.3,91.1 360.8,93.5 358.9,95.1 356.7,96.0 354.4,96.5 352.2,96.7 349.9,96.8 347.6,96.4 345.5,95.3 343.6,93.4 342.1,91.2 340.8,88.7 339.5,86.2 338.2,83.5 337.3,80.3 337.2,76.9 338.2,73.8 340.1,71.3 342.3,69.6 344.4,68.4 346.3,67.2 348.1,66.0 350.1,64.9 352.2,64.3 354.4,64.3 356.6,64.8 358.9,65.4 361.3,66.4 363.6,68.0 365.5,70.5 366.4,73.7 366.4,77.1" fill="#a68299"/><circle cx="356.3" cy="76.1" r="1.7" fill="#5d2839"/><circle cx="347.1" cy="86.0" r="1.6" fill="#4f1e2c"/><circle cx="348.6" cy="71.2" r="2.1" fill="#542131"/><circle cx="353.8" cy="88.7" r="2.0" fill="#6d3346"/><circle cx="359.0" cy="70.9" r="1.9" fill="#592535"/><circle cx="346.6" cy="78.7" r="2.1" fill="#5c2737"/><circle cx="346.6" cy="81.2" r="1.7" fill="#52202f"/><circle cx="357.3" cy="79.6" r="1.5" fill="#4d1c2b"/><circle cx="355.2" cy="92.4" r="1.2" fill="#652d3f"/><circle cx="342.6" cy="71.4" r="1.5" fill="#652d3f"/><circle cx="346.3" cy="92.7" r="2.3" fill="#511f2e"/><circle cx="347.1" cy="66.2" r="1.4" fill="#4c1b2a"/><circle cx="342.3" cy="79.4" r="1.8" fill="#6a3143"/><circle cx="346.1" cy="93.8" r="2.0" fill="#542131"/><circle cx="353.3" cy="92.3" r="2.1" fill="#6f3448"/><circle cx="342.3" cy="77.7" r="1.7" fill="#693043"/><circle cx="363.5" cy="82.4" r="1.7" fill="#622b3c"/><circle cx="355.7" cy="74.5" r="1.7" fill="#72374a"/><circle cx="352.5" cy="94.1" r="1.4" fill="#6a3144"/><circle cx="348.3" cy="74.3" r="1.3" fill="#592434"/><circle cx="340.8" cy="85.6" r="2.2" fill="#612b3c"/><circle cx="360.2" cy="86.8" r="2.2" fill="#4d1c2b"/><circle cx="345.1" cy="83.8" r="1.9" fill="#532030"/><circle cx="358.7" cy="82.7" r="1.7" fill="#5c2737"/><circle cx="356.1" cy="72.8" r="1.9" fill="#713649"/><circle cx="361.8" cy="82.3" r="1.3" fill="#5a2636"/><circle cx="351.6" cy="95.4" r="1.4" fill="#73374b"/><circle cx="354.3" cy="90.1" r="1.9" fill="#4f1e2c"/><circle cx="356.1" cy="89.8" r="1.9" fill="#6c3346"/><circle cx="345.6" cy="74.9" r="1.8" fill="#73374b"/><circle cx="348.3" cy="85.7" r="1.1" fill="#5d2838"/><circle cx="364.6" cy="75.0" r="1.9" fill="#542130"/><circle cx="347.2" cy="86.6" r="1.6" fill="#6a3144"/><circle cx="362.0" cy="82.8" r="1.4" fill="#642d3e"/><circle cx="355.1" cy="65.5" r="1.5" fill="#703548"/><circle cx="360.1" cy="81.2" r="1.3" fill="#672f41"/><circle cx="341.6" cy="81.7" r="1.2" fill="#4e1d2c"/><circle cx="352.2" cy="66.2" r="2.2" fill="#5c2738"/><circle cx="344.6" cy="73.5" r="2.2" fill="#562333"/><circle cx="340.2" cy="81.1" r="1.5" fill="#5c2738"/><circle cx="362.9" cy="90.1" r="1.7" fill="#5e2839"/><circle cx="356.8" cy="90.3" r="1.5" fill="#52202f"/><circle cx="346.7" cy="88.6" r="1.9" fill="#4d1c2b"/><circle cx="364.6" cy="79.6" r="1.1" fill="#5d2838"/><circle cx="351.7" cy="74.4" r="2.2" fill="#73374b"/><circle cx="359.7" cy="84.7" r="2.3" fill="#562332"/><circle cx="351.2" cy="64.8" r="1.1" fill="#5e2839"/><circle cx="346.3" cy="94.1" r="1.2" fill="#662e40"/><circle cx="362.8" cy="82.4" r="1.7" fill="#713649"/><circle cx="364.4" cy="79.0" r="1.9" fill="#5a2536"/><circle cx="344.5" cy="73.9" r="2.0" fill="#73374b"/><circle cx="348.8" cy="73.6" r="1.8" fill="#602a3b"/><circle cx="358.8" cy="74.0" r="1.6" fill="#672f41"/><circle cx="344.4" cy="72.6" r="1.8" fill="#542130"/><circle cx="360.1" cy="86.7" r="1.7" fill="#693042"/><circle cx="345.5" cy="86.8" r="2.3" fill="#703549"/><circle cx="355.3" cy="95.8" r="1.5" fill="#4c1c2a"/><circle cx="355.1" cy="67.9" r="2.2" fill="#5c2738"/><circle cx="360.8" cy="83.2" r="1.9" fill="#542130"/><circle cx="348.3" cy="72.5" r="1.9" fill="#4a1a28"/><circle cx="350.4" cy="71.7" r="1.6" fill="#73374b"/><circle cx="356.3" cy="84.4" r="2.3" fill="#6c3245"/><circle cx="343.0" cy="75.0" r="1.7" fill="#652d3f"/><circle cx="354.7" cy="73.2" r="1.5" fill="#5f293a"/><circle cx="355.3" cy="86.4" r="1.9" fill="#73384b"/><circle cx="355.4" cy="70.7" r="1.5" fill="#73384c"/><circle cx="356.8" cy="68.0" r="1.2" fill="#4f1e2d"/><circle cx="352.1" cy="69.2" r="1.9" fill="#511f2e"/><circle cx="348.2" cy="68.6" r="1.2" fill="#4f1e2d"/><circle cx="352.2" cy="91.7" r="1.7" fill="#72364a"/><circle cx="354.7" cy="88.4" r="1.7" fill="#532130"/><circle cx="362.1" cy="80.7" r="1.6" fill="#652e3f"/><circle cx="347.1" cy="79.9" r="1.6" fill="#4e1d2b"/><circle cx="363.3" cy="87.7" r="2.2" fill="#72374a"/><circle cx="351.0" cy="66.6" r="1.7" fill="#602a3b"/><circle cx="347.0" cy="95.0" r="1.7" fill="#703549"/><circle cx="347.4" cy="87.6" r="1.9" fill="#682f41"/><circle cx="345.1" cy="81.1" r="1.2" fill="#652d3f"/><circle cx="360.4" cy="92.2" r="1.7" fill="#683042"/><circle cx="350.6" cy="96.6" r="1.4" fill="#74384c"/><circle cx="362.9" cy="86.2" r="1.5" fill="#71364a"/><circle cx="343.0" cy="71.2" r="1.8" fill="#6a3144"/><circle cx="350.4" cy="91.3" r="1.9" fill="#4d1c2a"/><circle cx="350.6" cy="88.8" r="1.3" fill="#552231"/><circle cx="362.4" cy="82.4" r="1.6" fill="#693043"/><circle cx="362.5" cy="77.0" r="1.9" fill="#703548"/><circle cx="361.3" cy="77.5" r="2.1" fill="#5c2737"/><circle cx="344.9" cy="82.7" r="2.0" fill="#552231"/><polygon points="365.7,80.3 364.7,83.1 363.9,85.8 363.2,88.5 362.3,91.1 360.8,93.5 358.9,95.1 356.7,96.0 354.4,96.5 352.2,96.7 349.9,96.8 347.6,96.4 345.5,95.3 343.6,93.4 342.1,91.2 340.8,88.7 339.5,86.2 338.2,83.5 337.3,80.3 337.2,76.9 338.2,73.8 340.1,71.3 342.3,69.6 344.4,68.4 346.3,67.2 348.1,66.0 350.1,64.9 352.2,64.3 354.4,64.3 356.6,64.8 358.9,65.4 361.3,66.4 363.6,68.0 365.5,70.5 366.4,73.7 366.4,77.1" fill="none" stroke="#5f293a" stroke-width="2.0" stroke-opacity="0.6"/></g>
<polygon points="366,87 388.8,83 388.8,100 376,97 368,93" fill="#dfe0e8"/>
<path d="M341.9 110.6H367.5M341.9 108.6V112.6M367.5 108.6V112.6" stroke="#111" stroke-width="1.6" fill="none"/>
</g></g>
<rect x="318.5" y="60" width="70.3" height="55.3" fill="none" stroke="#555" stroke-width="1"/>
<text x="2.2" y="156.5" font-size="17.2" font-weight="bold" text-anchor="start" >(b)</text>
<path d="M64.2 174.2V273.5H362.3" stroke="#808080" stroke-width="1" fill="none"/>
<path d="M64.2 248.7h2.2" stroke="#808080" stroke-width="1"/>
<path d="M64.2 223.8h2.2" stroke="#808080" stroke-width="1"/>
<path d="M64.2 199.0h2.2" stroke="#808080" stroke-width="1"/>
<path d="M64.2 174.2h2.2" stroke="#808080" stroke-width="1"/>
<text x="56.4" y="276.4" font-size="8.9" font-weight="bold" text-anchor="end" >0</text>
<text x="56.4" y="251.57500000000002" font-size="8.9" font-weight="bold" text-anchor="end" >5000</text>
<text x="56.4" y="226.75" font-size="8.9" font-weight="bold" text-anchor="end" >10000</text>
<text x="56.4" y="201.92499999999998" font-size="8.9" font-weight="bold" text-anchor="end" >15000</text>
<text x="56.4" y="177.1" font-size="8.9" font-weight="bold" text-anchor="end" >20000</text>
<text x="62.4" y="166.6" font-size="7.1" font-weight="bold" text-anchor="start" >(μm<tspan font-size="4.8" dy="-3">2</tspan><tspan dy="3">)</tspan></text>
<rect x="81.4" y="227.3" width="24.599999999999994" height="46.19999999999999" fill="#fff" stroke="#333" stroke-width="1"/>
<path d="M93.7 227.3V222.2M91.7 222.2h4" stroke="#222" stroke-width="1"/>
<rect x="141.6" y="209.2" width="24.400000000000006" height="64.30000000000001" fill="#fff" stroke="#333" stroke-width="1"/>
<path d="M153.8 209.2V205M151.8 205h4" stroke="#222" stroke-width="1"/>
<rect x="201.5" y="226.7" width="23.599999999999994" height="46.80000000000001" fill="#fff" stroke="#333" stroke-width="1"/>
<path d="M213.3 226.7V223.2M211.3 223.2h4" stroke="#222" stroke-width="1"/>
<rect x="260.8" y="211" width="24.19999999999999" height="62.5" fill="#fff" stroke="#333" stroke-width="1"/>
<path d="M272.9 211V206M270.9 206h4" stroke="#222" stroke-width="1"/>
<rect x="320.2" y="203.1" width="24.600000000000023" height="70.4" fill="#fff" stroke="#333" stroke-width="1"/>
<path d="M332.5 203.1V197.2M330.5 197.2h4" stroke="#222" stroke-width="1"/>
<path d="M95 214V184.8H150.5V198.2" stroke="#666" stroke-width="1.1" fill="none"/>
<path d="M155.4 199V184.8H210.2V216.6" stroke="#666" stroke-width="1.1" fill="none"/>
<path d="M216.7 215.7V169.6H295.5V175.5" stroke="#666" stroke-width="1.1" fill="none"/>
<path d="M269.8 180.9H330.9" stroke="#777" stroke-width="1.2" fill="none"/>
<text x="120.7" y="185.2" font-size="11" font-weight="bold" text-anchor="middle" >*</text>
<text x="181.2" y="180.8" font-size="9.6"  text-anchor="middle" >#</text>
<text x="256.6" y="165.4" font-size="9.8"  text-anchor="middle" >$</text>
<text x="295" y="190.4" font-size="8.5"  text-anchor="middle" >n.s</text>
<text x="87.8" y="288.8" font-size="10.3" font-weight="bold" text-anchor="middle" >Sham</text>
<text x="89.2" y="301.2" font-size="10.3" font-weight="bold" text-anchor="middle" >PBS</text>
<text x="145.8" y="288.8" font-size="10.3" font-weight="bold" text-anchor="middle" >Sham</text>
<text x="146.1" y="301.2" font-size="10.3" font-weight="bold" text-anchor="middle" >PBS</text>
<text x="206.4" y="288.8" font-size="10.3" font-weight="bold" text-anchor="middle" >Sham</text>
<text x="208.8" y="301.2" font-size="10.3" font-weight="bold" text-anchor="middle" >GLP-1</text>
<text x="269.2" y="288.8" font-size="10.3" font-weight="bold" text-anchor="middle" >SpX</text>
<text x="269.5" y="301.2" font-size="10.3" font-weight="bold" text-anchor="middle" >PBS</text>
<text x="336" y="288.8" font-size="10.3" font-weight="bold" text-anchor="middle" >SpX</text>
<text x="336" y="301.2" font-size="10.3" font-weight="bold" text-anchor="middle" >GLP-1</text>
<path d="M71 309H105.5M132.9 307.8H352.4" stroke="#808080" stroke-width="1.2"/>
<text x="91.5" y="323.4" font-size="10.3" font-weight="bold" text-anchor="middle" >Standard</text>
<text x="240.4" y="324.9" font-size="10.3" font-weight="bold" text-anchor="middle" >HFD</text>
<text x="0" y="0" font-size="10.9" font-weight="bold" text-anchor="middle" transform="translate(23.2 219.8) rotate(-90) scale(1 0.92)">Insulin-positive area</text>
<text x="429" y="20" font-size="17.2" font-weight="bold" text-anchor="start" >(c)</text>
<path d="M532 3.6H566" stroke="#222" stroke-width="1"/>
<circle cx="548.9" cy="3.6" r="2.80" fill="#fff" stroke="#000" stroke-width="1"/>
<text x="568.6" y="8.9" font-size="10.7"  text-anchor="start" >Standard, Sham, PBS</text>
<path d="M532 15.8H566" stroke="#444" stroke-width="1.5"/>
<rect x="546.1" y="13.0" width="5.6" height="5.6" fill="#fff" stroke="#000" stroke-width="1"/>
<text x="568.6" y="20.5" font-size="10.7"  text-anchor="start" >HFD, Sham, PBS</text>
<path d="M532 28.1H566" stroke="#111" stroke-width="1.3" stroke-dasharray="5 3.7"/>
<rect x="546.2" y="25.4" width="5.4" height="5.4" fill="#000" stroke="#000" stroke-width="0.6"/>
<text x="568.6" y="33.0" font-size="10.7"  text-anchor="start" >HFD, Sham, GLP-1</text>
<path d="M532 40.3H566" stroke="#222" stroke-width="1"/>
<path d="M548.9 36.9L552.3 43.0H545.5Z" fill="#fff" stroke="#000" stroke-width="1"/>
<text x="568.6" y="45.4" font-size="10.7"  text-anchor="start" >HFD, SpX, PBS</text>
<path d="M532 52.0H566" stroke="#222" stroke-width="1.6" stroke-dasharray="6 1 1.5 1"/>
<path d="M548.9 48.6L552.3 54.7H545.5Z" fill="#000" stroke="#000" stroke-width="0.6"/>
<text x="568.6" y="57.1" font-size="10.7"  text-anchor="start" >HFD, SpX, GLP-1</text>
<path d="M459 56.5V178.2H641.7" stroke="#808080" stroke-width="1.1" fill="none"/>
<path d="M459 153.9h2.6" stroke="#808080" stroke-width="1"/>
<path d="M459 129.5h2.6" stroke="#808080" stroke-width="1"/>
<path d="M459 105.2h2.6" stroke="#808080" stroke-width="1"/>
<path d="M459 80.8h2.6" stroke="#808080" stroke-width="1"/>
<path d="M459 56.5h2.6" stroke="#808080" stroke-width="1"/>
<text x="451.4" y="181.29999999999998" font-size="9.1" font-weight="bold" text-anchor="end" >0</text>
<text x="451.4" y="156.95999999999998" font-size="9.1" font-weight="bold" text-anchor="end" >50</text>
<text x="451.4" y="132.61999999999998" font-size="9.1" font-weight="bold" text-anchor="end" >100</text>
<text x="451.4" y="108.27999999999999" font-size="9.1" font-weight="bold" text-anchor="end" >150</text>
<text x="451.4" y="83.93999999999998" font-size="9.1" font-weight="bold" text-anchor="end" >200</text>
<text x="451.4" y="59.59999999999999" font-size="9.1" font-weight="bold" text-anchor="end" >250</text>
<text x="469" y="55.3" font-size="7.0" font-weight="bold" text-anchor="start" >(mg/dL)</text>
<text x="0" y="0" font-size="10.65" font-weight="bold" text-anchor="middle" transform="translate(427.4 121.9) rotate(-90)">Blood glucose level</text>
<text x="476.8" y="194.3" font-size="9.1" font-weight="bold" text-anchor="middle" >0</text>
<text x="514.0" y="194.3" font-size="9.1" font-weight="bold" text-anchor="middle" >15</text>
<text x="550.3" y="194.3" font-size="9.1" font-weight="bold" text-anchor="middle" >30</text>
<text x="587.2" y="194.3" font-size="9.1" font-weight="bold" text-anchor="middle" >60</text>
<text x="624.4" y="194.3" font-size="9.1" font-weight="bold" text-anchor="middle" >120</text>
<text x="635" y="202.6" font-size="8.2" font-weight="bold" text-anchor="middle" >time</text>
<text x="664" y="202.6" font-size="8.2" font-weight="bold" text-anchor="middle" >(min)</text>
<path d="M476.8 141.7V131.5M474.8 131.5h4" stroke="#222" stroke-width="0.9"/>
<path d="M476.8 144.1V151.9M474.8 151.9h4" stroke="#222" stroke-width="0.9"/>
<path d="M514.0 82.8V71.1M512.0 71.1h4" stroke="#222" stroke-width="0.9"/>
<path d="M514.0 95.4V89.6M512.0 89.6h4" stroke="#222" stroke-width="0.9"/>
<path d="M514.0 108.6V115.4M512.0 115.4h4" stroke="#222" stroke-width="0.9"/>
<path d="M550.3 78.4V65.7M548.3 65.7h4" stroke="#222" stroke-width="0.9"/>
<path d="M550.3 89.6V100.3M548.3 100.3h4" stroke="#222" stroke-width="0.9"/>
<path d="M550.3 111.0V117.3M548.3 117.3h4" stroke="#222" stroke-width="0.9"/>
<path d="M587.2 94.5V81.3M585.2 81.3h4" stroke="#222" stroke-width="0.9"/>
<path d="M587.2 122.7V128.1M585.2 128.1h4" stroke="#222" stroke-width="0.9"/>
<path d="M624.4 112.5V99.3M622.4 99.3h4" stroke="#222" stroke-width="0.9"/>
<path d="M624.4 129.5V137.3M622.4 137.3h4" stroke="#222" stroke-width="0.9"/>
<polyline points="476.8,141.2 514.0,95.4 550.3,89.6 587.2,100.8 624.4,129.0" fill="none" stroke="#000" stroke-width="1.8" />
<polyline points="476.8,144.1 514.0,108.6 550.3,111.0 587.2,122.7 624.4,128.1" fill="none" stroke="#000" stroke-width="1.8" />
<polyline points="476.8,144.1 514.0,100.8 550.3,106.9 587.2,113.5 624.4,129.8" fill="none" stroke="#000" stroke-width="1.8" stroke-dasharray="1.8 2.2"/>
<polyline points="476.8,144.1 514.0,82.8 550.3,77.4 587.2,94.5 624.4,112.5" fill="none" stroke="#000" stroke-width="1.8" />
<polyline points="476.8,145.1 514.0,100.3 550.3,79.1 587.2,97.9 624.4,113.9" fill="none" stroke="#000" stroke-width="1.8" stroke-dasharray="1.8 2.2"/>
<rect x="473.5" y="137.9" width="6.6" height="6.6" fill="#fff" stroke="#000" stroke-width="1"/>
<rect x="510.7" y="92.1" width="6.6" height="6.6" fill="#fff" stroke="#000" stroke-width="1"/>
<rect x="547.0" y="86.3" width="6.6" height="6.6" fill="#fff" stroke="#000" stroke-width="1"/>
<rect x="583.9" y="97.5" width="6.6" height="6.6" fill="#fff" stroke="#000" stroke-width="1"/>
<rect x="621.1" y="125.7" width="6.6" height="6.6" fill="#fff" stroke="#000" stroke-width="1"/>
<circle cx="476.8" cy="144.1" r="3.30" fill="#fff" stroke="#000" stroke-width="1"/>
<circle cx="514.0" cy="108.6" r="3.30" fill="#fff" stroke="#000" stroke-width="1"/>
<circle cx="550.3" cy="111.0" r="3.30" fill="#fff" stroke="#000" stroke-width="1"/>
<circle cx="587.2" cy="122.7" r="3.30" fill="#fff" stroke="#000" stroke-width="1"/>
<circle cx="624.4" cy="128.1" r="3.30" fill="#fff" stroke="#000" stroke-width="1"/>
<rect x="473.6" y="140.9" width="6.4" height="6.4" fill="#000" stroke="#000" stroke-width="0.6"/>
<rect x="510.8" y="97.6" width="6.4" height="6.4" fill="#000" stroke="#000" stroke-width="0.6"/>
<rect x="547.1" y="103.7" width="6.4" height="6.4" fill="#000" stroke="#000" stroke-width="0.6"/>
<rect x="584.0" y="110.3" width="6.4" height="6.4" fill="#000" stroke="#000" stroke-width="0.6"/>
<rect x="621.2" y="126.6" width="6.4" height="6.4" fill="#000" stroke="#000" stroke-width="0.6"/>
<path d="M476.8 140.1L480.8 147.3H472.8Z" fill="#fff" stroke="#000" stroke-width="1"/>
<path d="M514.0 78.8L518.0 86.0H510.0Z" fill="#fff" stroke="#000" stroke-width="1"/>
<path d="M550.3 73.4L554.3 80.6H546.3Z" fill="#fff" stroke="#000" stroke-width="1"/>
<path d="M587.2 90.5L591.2 97.7H583.2Z" fill="#fff" stroke="#000" stroke-width="1"/>
<path d="M624.4 108.5L628.4 115.7H620.4Z" fill="#fff" stroke="#000" stroke-width="1"/>
<path d="M476.8 141.1L480.8 148.3H472.8Z" fill="#000" stroke="#000" stroke-width="0.6"/>
<path d="M514.0 96.3L518.0 103.5H510.0Z" fill="#000" stroke="#000" stroke-width="0.6"/>
<path d="M550.3 75.1L554.3 82.3H546.3Z" fill="#000" stroke="#000" stroke-width="0.6"/>
<path d="M587.2 93.9L591.2 101.1H583.2Z" fill="#000" stroke="#000" stroke-width="0.6"/>
<path d="M624.4 109.9L628.4 117.1H620.4Z" fill="#000" stroke="#000" stroke-width="0.6"/>
<text x="556.7" y="76" font-size="10.5" font-weight="bold" text-anchor="middle" >*</text>
<text x="554" y="100.8" font-size="10.5" font-weight="bold" text-anchor="middle" >*</text>
<path d="M460 207.6V340.2H644.9" stroke="#808080" stroke-width="1.1" fill="none"/>
<path d="M460 307.0h2.6" stroke="#808080" stroke-width="1"/>
<path d="M460 273.8h2.6" stroke="#808080" stroke-width="1"/>
<path d="M460 240.6h2.6" stroke="#808080" stroke-width="1"/>
<path d="M460 207.4h2.6" stroke="#808080" stroke-width="1"/>
<text x="452.4" y="343.3" font-size="9.1" font-weight="bold" text-anchor="end" >0</text>
<text x="452.4" y="310.1" font-size="9.1" font-weight="bold" text-anchor="end" >1</text>
<text x="452.4" y="276.9" font-size="9.1" font-weight="bold" text-anchor="end" >2</text>
<text x="452.4" y="243.69999999999996" font-size="9.1" font-weight="bold" text-anchor="end" >3</text>
<text x="452.4" y="210.49999999999997" font-size="9.1" font-weight="bold" text-anchor="end" >4</text>
<text x="470.5" y="213.5" font-size="7.0" font-weight="bold" text-anchor="start" >(ng/mL)</text>
<text x="0" y="0" font-size="10.8" font-weight="bold" text-anchor="middle" transform="translate(433.3 281.6) rotate(-90)">Plasma insulin level</text>
<text x="478.2" y="356.5" font-size="9.1" font-weight="bold" text-anchor="middle" >0</text>
<text x="515.2" y="356.5" font-size="9.1" font-weight="bold" text-anchor="middle" >15</text>
<text x="551.9" y="356.5" font-size="9.1" font-weight="bold" text-anchor="middle" >30</text>
<text x="588.7" y="356.5" font-size="9.1" font-weight="bold" text-anchor="middle" >60</text>
<text x="626.0" y="356.5" font-size="9.1" font-weight="bold" text-anchor="middle" >120</text>
<text x="632" y="367.6" font-size="8.2" font-weight="bold" text-anchor="middle" >time</text>
<text x="661" y="367.6" font-size="8.2" font-weight="bold" text-anchor="middle" >(min)</text>
<path d="M478.2 318.3V313.6M476.2 313.6h4" stroke="#222" stroke-width="0.9"/>
<path d="M515.2 285.1V277.5M513.2 277.5h4" stroke="#222" stroke-width="0.9"/>
<path d="M551.9 269.5V258.5M549.9 258.5h4" stroke="#222" stroke-width="0.9"/>
<path d="M551.9 291.1V284.8M549.9 284.8h4" stroke="#222" stroke-width="0.9"/>
<path d="M551.9 309.3V301.0M549.9 301.0h4" stroke="#222" stroke-width="0.9"/>
<path d="M588.7 256.2V244.3M586.7 244.3h4" stroke="#222" stroke-width="0.9"/>
<path d="M588.7 282.8V276.5M586.7 276.5h4" stroke="#222" stroke-width="0.9"/>
<path d="M588.7 309.0V301.7M586.7 301.7h4" stroke="#222" stroke-width="0.9"/>
<path d="M626.0 291.1V278.1M624.0 278.1h4" stroke="#222" stroke-width="0.9"/>
<path d="M626.0 313.6V307.0M624.0 307.0h4" stroke="#222" stroke-width="0.9"/>
<path d="M626.0 323.9V326.9M624.0 326.9h4" stroke="#222" stroke-width="0.9"/>
<polyline points="478.2,326.6 515.2,290.4 551.9,269.5 588.7,256.2 626.0,291.1" fill="none" stroke="#000" stroke-width="1.8" />
<polyline points="478.2,323.6 515.2,307.3 551.9,312.0 588.7,323.9 626.0,323.9" fill="none" stroke="#000" stroke-width="1.8" />
<polyline points="478.2,320.6 515.2,291.4 551.9,291.1 588.7,282.8 626.0,292.4" fill="none" stroke="#000" stroke-width="1.8" stroke-dasharray="1.8 2.2"/>
<polyline points="478.2,324.3 515.2,285.1 551.9,309.3 588.7,309.0 626.0,313.6" fill="none" stroke="#000" stroke-width="1.8" />
<polyline points="478.2,318.3 515.2,298.4 551.9,313.6 588.7,317.3 626.0,320.9" fill="none" stroke="#000" stroke-width="1.8" />
<rect x="474.9" y="323.3" width="6.6" height="6.6" fill="#fff" stroke="#000" stroke-width="1"/>
<rect x="511.9" y="287.1" width="6.6" height="6.6" fill="#fff" stroke="#000" stroke-width="1"/>
<rect x="548.6" y="266.2" width="6.6" height="6.6" fill="#fff" stroke="#000" stroke-width="1"/>
<rect x="585.4" y="252.9" width="6.6" height="6.6" fill="#fff" stroke="#000" stroke-width="1"/>
<rect x="622.7" y="287.8" width="6.6" height="6.6" fill="#fff" stroke="#000" stroke-width="1"/>
<circle cx="478.2" cy="323.6" r="3.30" fill="#fff" stroke="#000" stroke-width="1"/>
<circle cx="515.2" cy="307.3" r="3.30" fill="#fff" stroke="#000" stroke-width="1"/>
<circle cx="551.9" cy="312.0" r="3.30" fill="#fff" stroke="#000" stroke-width="1"/>
<circle cx="588.7" cy="323.9" r="3.30" fill="#fff" stroke="#000" stroke-width="1"/>
<circle cx="626.0" cy="323.9" r="3.30" fill="#fff" stroke="#000" stroke-width="1"/>
<rect x="475.0" y="317.4" width="6.4" height="6.4" fill="#000" stroke="#000" stroke-width="0.6"/>
<rect x="512.0" y="288.2" width="6.4" height="6.4" fill="#000" stroke="#000" stroke-width="0.6"/>
<rect x="548.7" y="287.9" width="6.4" height="6.4" fill="#000" stroke="#000" stroke-width="0.6"/>
<rect x="585.5" y="279.6" width="6.4" height="6.4" fill="#000" stroke="#000" stroke-width="0.6"/>
<rect x="622.8" y="289.2" width="6.4" height="6.4" fill="#000" stroke="#000" stroke-width="0.6"/>
<path d="M478.2 320.3L482.2 327.5H474.2Z" fill="#fff" stroke="#000" stroke-width="1"/>
<path d="M515.2 281.1L519.2 288.3H511.2Z" fill="#fff" stroke="#000" stroke-width="1"/>
<path d="M551.9 305.3L555.9 312.5H547.9Z" fill="#fff" stroke="#000" stroke-width="1"/>
<path d="M588.7 305.0L592.7 312.2H584.7Z" fill="#fff" stroke="#000" stroke-width="1"/>
<path d="M626.0 309.6L630.0 316.8H622.0Z" fill="#fff" stroke="#000" stroke-width="1"/>
<path d="M478.2 314.3L482.2 321.5H474.2Z" fill="#000" stroke="#000" stroke-width="0.6"/>
<path d="M515.2 294.4L519.2 301.6H511.2Z" fill="#000" stroke="#000" stroke-width="0.6"/>
<path d="M551.9 309.6L555.9 316.8H547.9Z" fill="#000" stroke="#000" stroke-width="0.6"/>
<path d="M588.7 313.3L592.7 320.5H584.7Z" fill="#000" stroke="#000" stroke-width="0.6"/>
<path d="M626.0 316.9L630.0 324.1H622.0Z" fill="#000" stroke="#000" stroke-width="0.6"/>
<text x="551.6" y="258.4" font-size="10.5" font-weight="bold" text-anchor="middle" >*</text>
<text x="588.7" y="245.9" font-size="10.5" font-weight="bold" text-anchor="middle" >*</text></svg>
</body></html>
